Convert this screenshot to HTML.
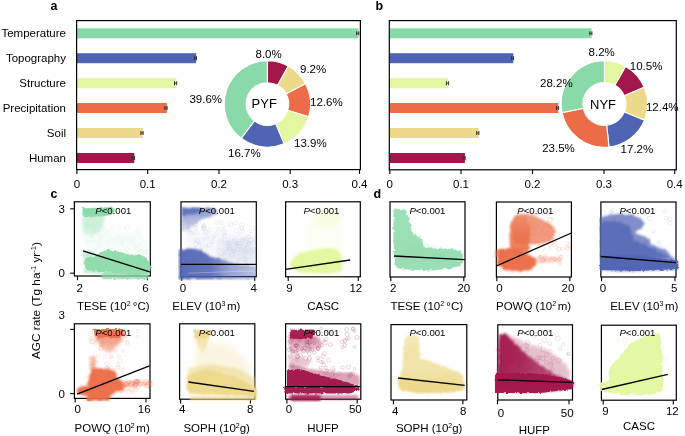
<!DOCTYPE html>
<html><head><meta charset="utf-8"><style>
html,body{margin:0;padding:0;background:#fff;}
svg{display:block;font-family:"Liberation Sans", sans-serif;will-change:transform;}
</style></head><body>
<svg width="685" height="436" viewBox="0 0 685 436">
<defs><clipPath id="c1"><rect x="70.4" y="199.8" width="82.9" height="80.19999999999999"/></clipPath><filter id="f2" x="-30%" y="-30%" width="160%" height="160%"><feGaussianBlur stdDeviation="2.0"/></filter><filter id="f3" x="-30%" y="-30%" width="160%" height="160%"><feGaussianBlur stdDeviation="3.0"/></filter><filter id="f4" x="-20%" y="-20%" width="140%" height="140%"><feTurbulence type="fractalNoise" baseFrequency="0.3" numOctaves="2" seed="4" result="n"/><feDisplacementMap in="SourceGraphic" in2="n" scale="3.5" xChannelSelector="R" yChannelSelector="G" result="d"/><feGaussianBlur in="d" stdDeviation="1.5"/></filter><linearGradient id="g5" gradientUnits="userSpaceOnUse" x1="0" y1="212" x2="0" y2="236"><stop offset="0" stop-color="#8AD9A8" stop-opacity="0.55"/><stop offset="1" stop-color="#8AD9A8" stop-opacity="0.12"/></linearGradient><filter id="f6" x="-20%" y="-20%" width="140%" height="140%"><feTurbulence type="fractalNoise" baseFrequency="0.3" numOctaves="2" seed="6" result="n"/><feDisplacementMap in="SourceGraphic" in2="n" scale="3.5" xChannelSelector="R" yChannelSelector="G" result="d"/><feGaussianBlur in="d" stdDeviation="0.7"/></filter><filter id="f7" x="-30%" y="-30%" width="160%" height="160%"><feGaussianBlur stdDeviation="0.7"/></filter><filter id="f8" x="-30%" y="-30%" width="160%" height="160%"><feGaussianBlur stdDeviation="1.2"/></filter><filter id="f9" x="-30%" y="-30%" width="160%" height="160%"><feGaussianBlur stdDeviation="0.8"/></filter><clipPath id="c10"><rect x="178.0" y="199.8" width="80.30000000000001" height="80.80000000000001"/></clipPath><filter id="f11" x="-20%" y="-20%" width="140%" height="140%"><feTurbulence type="fractalNoise" baseFrequency="0.3" numOctaves="2" seed="11" result="n"/><feDisplacementMap in="SourceGraphic" in2="n" scale="3.5" xChannelSelector="R" yChannelSelector="G" result="d"/><feGaussianBlur in="d" stdDeviation="1.0"/></filter><linearGradient id="g12" gradientUnits="userSpaceOnUse" x1="0" y1="208" x2="0" y2="232"><stop offset="0" stop-color="#5064B4" stop-opacity="0.7"/><stop offset="0.3" stop-color="#5064B4" stop-opacity="0.55"/><stop offset="1" stop-color="#5064B4" stop-opacity="0.2"/></linearGradient><filter id="f13" x="-20%" y="-20%" width="140%" height="140%"><feTurbulence type="fractalNoise" baseFrequency="0.3" numOctaves="2" seed="13" result="n"/><feDisplacementMap in="SourceGraphic" in2="n" scale="3.5" xChannelSelector="R" yChannelSelector="G" result="d"/><feGaussianBlur in="d" stdDeviation="0.8"/></filter><filter id="f14" x="-20%" y="-20%" width="140%" height="140%"><feTurbulence type="fractalNoise" baseFrequency="0.3" numOctaves="2" seed="14" result="n"/><feDisplacementMap in="SourceGraphic" in2="n" scale="3.5" xChannelSelector="R" yChannelSelector="G" result="d"/><feGaussianBlur in="d" stdDeviation="0.9"/></filter><linearGradient id="g15" gradientUnits="userSpaceOnUse" x1="179" y1="0" x2="256" y2="0"><stop offset="0" stop-color="#5064B4" stop-opacity="0.95"/><stop offset="0.4" stop-color="#5064B4" stop-opacity="0.9"/><stop offset="0.65" stop-color="#5064B4" stop-opacity="0.6"/><stop offset="1" stop-color="#5064B4" stop-opacity="0.4"/></linearGradient><clipPath id="c16"><rect x="281.6" y="199.8" width="82.69999999999999" height="80.0"/></clipPath><filter id="f17" x="-30%" y="-30%" width="160%" height="160%"><feGaussianBlur stdDeviation="3.5"/></filter><filter id="f18" x="-30%" y="-30%" width="160%" height="160%"><feGaussianBlur stdDeviation="2.5"/></filter><filter id="f19" x="-30%" y="-30%" width="160%" height="160%"><feGaussianBlur stdDeviation="1.3"/></filter><clipPath id="c20"><rect x="386.0" y="199.8" width="83.0" height="80.19999999999999"/></clipPath><filter id="f21" x="-30%" y="-30%" width="160%" height="160%"><feGaussianBlur stdDeviation="1.5"/></filter><clipPath id="c22"><rect x="493.4" y="200.0" width="80.0" height="79.0"/></clipPath><linearGradient id="g23" gradientUnits="userSpaceOnUse" x1="0" y1="216" x2="0" y2="253"><stop offset="0" stop-color="#EB6C46" stop-opacity="0.3"/><stop offset="0.45" stop-color="#EB6C46" stop-opacity="0.75"/><stop offset="1" stop-color="#EB6C46" stop-opacity="0.95"/></linearGradient><clipPath id="c24"><rect x="598.9" y="200.0" width="80.10000000000002" height="79.0"/></clipPath><clipPath id="c25"><rect x="71.4" y="321.8" width="81.6" height="79.59999999999997"/></clipPath><filter id="f26" x="-20%" y="-20%" width="140%" height="140%"><feTurbulence type="fractalNoise" baseFrequency="0.3" numOctaves="2" seed="26" result="n"/><feDisplacementMap in="SourceGraphic" in2="n" scale="3.5" xChannelSelector="R" yChannelSelector="G" result="d"/><feGaussianBlur in="d" stdDeviation="1.4"/></filter><linearGradient id="g27" gradientUnits="userSpaceOnUse" x1="0" y1="334" x2="0" y2="354"><stop offset="0" stop-color="#EB6C46" stop-opacity="0.75"/><stop offset="1" stop-color="#EB6C46" stop-opacity="0.3"/></linearGradient><filter id="f28" x="-20%" y="-20%" width="140%" height="140%"><feTurbulence type="fractalNoise" baseFrequency="0.3" numOctaves="2" seed="28" result="n"/><feDisplacementMap in="SourceGraphic" in2="n" scale="3.5" xChannelSelector="R" yChannelSelector="G" result="d"/><feGaussianBlur in="d" stdDeviation="1.2"/></filter><clipPath id="c29"><rect x="176.6" y="321.8" width="81.20000000000002" height="79.39999999999998"/></clipPath><linearGradient id="g30" gradientUnits="userSpaceOnUse" x1="0" y1="335" x2="0" y2="353"><stop offset="0" stop-color="#EDD98A" stop-opacity="0.85"/><stop offset="1" stop-color="#EDD98A" stop-opacity="0.3"/></linearGradient><clipPath id="c31"><rect x="282.6" y="321.8" width="80.19999999999999" height="80.39999999999998"/></clipPath><linearGradient id="g32" gradientUnits="userSpaceOnUse" x1="0" y1="336" x2="0" y2="352"><stop offset="0" stop-color="#A3164B" stop-opacity="0.55"/><stop offset="1" stop-color="#A3164B" stop-opacity="0.2"/></linearGradient><filter id="f33" x="-20%" y="-20%" width="140%" height="140%"><feTurbulence type="fractalNoise" baseFrequency="0.3" numOctaves="2" seed="33" result="n"/><feDisplacementMap in="SourceGraphic" in2="n" scale="3.5" xChannelSelector="R" yChannelSelector="G" result="d"/><feGaussianBlur in="d" stdDeviation="0.6"/></filter><clipPath id="c34"><rect x="387.0" y="322.6" width="83.80000000000001" height="80.39999999999998"/></clipPath><linearGradient id="g35" gradientUnits="userSpaceOnUse" x1="0" y1="334" x2="0" y2="392"><stop offset="0" stop-color="#EDD98A" stop-opacity="0.55"/><stop offset="0.3" stop-color="#EDD98A" stop-opacity="0.75"/><stop offset="0.6" stop-color="#EDD98A" stop-opacity="0.72"/><stop offset="0.8" stop-color="#EDD98A" stop-opacity="0.85"/><stop offset="1" stop-color="#EDD98A" stop-opacity="0.9"/></linearGradient><clipPath id="c36"><rect x="494.8" y="322.8" width="80.69999999999999" height="79.19999999999999"/></clipPath><linearGradient id="g37" gradientUnits="userSpaceOnUse" x1="498" y1="0" x2="575" y2="0"><stop offset="0" stop-color="#A3164B" stop-opacity="0.97"/><stop offset="0.3" stop-color="#A3164B" stop-opacity="0.9"/><stop offset="0.6" stop-color="#A3164B" stop-opacity="0.72"/><stop offset="1" stop-color="#A3164B" stop-opacity="0.55"/></linearGradient><clipPath id="c38"><rect x="598.4" y="323.2" width="80.89999999999998" height="79.0"/></clipPath></defs>
<rect width="685" height="436" fill="#fff"/>
<text x="50.5" y="10.2" font-size="12.5" text-anchor="start" font-weight="bold" font-style="normal" fill="#000" >a</text>
<text x="375.5" y="9.8" font-size="12.5" text-anchor="start" font-weight="bold" font-style="normal" fill="#000" >b</text>
<text x="50.5" y="198" font-size="12.5" text-anchor="start" font-weight="bold" font-style="normal" fill="#000" >c</text>
<text x="373.5" y="197.8" font-size="12.5" text-anchor="start" font-weight="bold" font-style="normal" fill="#000" >d</text>
<rect x="77" y="28.299999999999997" width="281.5" height="10.0" fill="#8AD9A8" />
<text x="66" y="37.4" font-size="11.5" text-anchor="end" font-weight="normal" font-style="normal" fill="#000" >Temperature</text>
<rect x="77" y="53.2" width="119.19999999999999" height="10.0" fill="#5064B4" />
<text x="66" y="62.300000000000004" font-size="11.5" text-anchor="end" font-weight="normal" font-style="normal" fill="#000" >Topography</text>
<rect x="77" y="78.2" width="99.4" height="10.0" fill="#E3F7A0" />
<text x="66" y="87.3" font-size="11.5" text-anchor="end" font-weight="normal" font-style="normal" fill="#000" >Structure</text>
<rect x="77" y="103.0" width="89.80000000000001" height="10.0" fill="#EB6C46" />
<text x="66" y="112.1" font-size="11.5" text-anchor="end" font-weight="normal" font-style="normal" fill="#000" >Precipitation</text>
<rect x="77" y="128.0" width="65.80000000000001" height="10.0" fill="#EDD98A" />
<text x="66" y="137.1" font-size="11.5" text-anchor="end" font-weight="normal" font-style="normal" fill="#000" >Soil</text>
<rect x="77" y="153.0" width="57.30000000000001" height="10.0" fill="#A3164B" />
<text x="66" y="162.1" font-size="11.5" text-anchor="end" font-weight="normal" font-style="normal" fill="#000" >Human</text>
<rect x="390" y="28.299999999999997" width="201.60000000000002" height="10.0" fill="#8AD9A8" />
<rect x="390" y="53.2" width="123.29999999999995" height="10.0" fill="#5064B4" />
<rect x="390" y="78.2" width="58.30000000000001" height="10.0" fill="#E3F7A0" />
<rect x="390" y="103.0" width="168.29999999999995" height="10.0" fill="#EB6C46" />
<rect x="390" y="128.0" width="88.60000000000002" height="10.0" fill="#EDD98A" />
<rect x="390" y="153.0" width="74.89999999999998" height="10.0" fill="#A3164B" />
<path d="M356.60 33.3H358.80M356.60 31.30V35.30M358.80 31.30V35.30" stroke="#333333" stroke-width="1.0" fill="none"/>
<path d="M194.30 58.2H196.50M194.30 56.20V60.20M196.50 56.20V60.20" stroke="#333333" stroke-width="1.0" fill="none"/>
<path d="M174.50 83.2H176.70M174.50 81.20V85.20M176.70 81.20V85.20" stroke="#333333" stroke-width="1.0" fill="none"/>
<path d="M164.90 108.0H167.10M164.90 106.00V110.00M167.10 106.00V110.00" stroke="#333333" stroke-width="1.0" fill="none"/>
<path d="M140.90 133.0H143.10M140.90 131.00V135.00M143.10 131.00V135.00" stroke="#333333" stroke-width="1.0" fill="none"/>
<path d="M132.40 158.0H134.60M132.40 156.00V160.00M134.60 156.00V160.00" stroke="#333333" stroke-width="1.0" fill="none"/>
<path d="M589.70 33.3H591.90M589.70 31.30V35.30M591.90 31.30V35.30" stroke="#333333" stroke-width="1.0" fill="none"/>
<path d="M511.40 58.2H513.60M511.40 56.20V60.20M513.60 56.20V60.20" stroke="#333333" stroke-width="1.0" fill="none"/>
<path d="M446.40 83.2H448.60M446.40 81.20V85.20M448.60 81.20V85.20" stroke="#333333" stroke-width="1.0" fill="none"/>
<path d="M556.40 108.0H558.60M556.40 106.00V110.00M558.60 106.00V110.00" stroke="#333333" stroke-width="1.0" fill="none"/>
<path d="M476.70 133.0H478.90M476.70 131.00V135.00M478.90 131.00V135.00" stroke="#333333" stroke-width="1.0" fill="none"/>
<path d="M463.00 158.0H465.20M463.00 156.00V160.00M465.20 156.00V160.00" stroke="#333333" stroke-width="1.0" fill="none"/>
<rect x="76.6" y="20.6" width="283.79999999999995" height="149.0" fill="none" stroke="#000" stroke-width="1.2"/>
<rect x="389.3" y="20.6" width="286.99999999999994" height="149.20000000000002" fill="none" stroke="#000" stroke-width="1.2"/>
<line x1="76.9" y1="169.6" x2="76.9" y2="173.9" stroke="#000" stroke-width="1.1"/>
<text x="76.9" y="188" font-size="11.5" text-anchor="middle" font-weight="normal" font-style="normal" fill="#000" >0</text>
<line x1="147.7" y1="169.6" x2="147.7" y2="173.9" stroke="#000" stroke-width="1.1"/>
<text x="147.7" y="188" font-size="11.5" text-anchor="middle" font-weight="normal" font-style="normal" fill="#000" >0.1</text>
<line x1="219.0" y1="169.6" x2="219.0" y2="173.9" stroke="#000" stroke-width="1.1"/>
<text x="219.0" y="188" font-size="11.5" text-anchor="middle" font-weight="normal" font-style="normal" fill="#000" >0.2</text>
<line x1="290.2" y1="169.6" x2="290.2" y2="173.9" stroke="#000" stroke-width="1.1"/>
<text x="290.2" y="188" font-size="11.5" text-anchor="middle" font-weight="normal" font-style="normal" fill="#000" >0.3</text>
<line x1="359.5" y1="169.6" x2="359.5" y2="173.9" stroke="#000" stroke-width="1.1"/>
<text x="359.5" y="188" font-size="11.5" text-anchor="middle" font-weight="normal" font-style="normal" fill="#000" >0.4</text>
<line x1="389.8" y1="169.8" x2="389.8" y2="174.10000000000002" stroke="#000" stroke-width="1.1"/>
<text x="389.8" y="188" font-size="11.5" text-anchor="middle" font-weight="normal" font-style="normal" fill="#000" >0</text>
<line x1="461.0" y1="169.8" x2="461.0" y2="174.10000000000002" stroke="#000" stroke-width="1.1"/>
<text x="461.0" y="188" font-size="11.5" text-anchor="middle" font-weight="normal" font-style="normal" fill="#000" >0.1</text>
<line x1="532.5" y1="169.8" x2="532.5" y2="174.10000000000002" stroke="#000" stroke-width="1.1"/>
<text x="532.5" y="188" font-size="11.5" text-anchor="middle" font-weight="normal" font-style="normal" fill="#000" >0.2</text>
<line x1="604.0" y1="169.8" x2="604.0" y2="174.10000000000002" stroke="#000" stroke-width="1.1"/>
<text x="604.0" y="188" font-size="11.5" text-anchor="middle" font-weight="normal" font-style="normal" fill="#000" >0.3</text>
<line x1="674.7" y1="169.8" x2="674.7" y2="174.10000000000002" stroke="#000" stroke-width="1.1"/>
<text x="674.7" y="188" font-size="11.5" text-anchor="middle" font-weight="normal" font-style="normal" fill="#000" >0.4</text>
<path d="M267.40 60.80A43.2 43.2 0 0 1 288.21 66.14L277.66 85.33A21.3 21.3 0 0 0 267.40 82.70Z" fill="#A3164B" stroke="#fff" stroke-width="1.1" stroke-linejoin="miter"/>
<path d="M288.21 66.14A43.2 43.2 0 0 1 305.51 83.67L286.19 93.97A21.3 21.3 0 0 0 277.66 85.33Z" fill="#EDD98A" stroke="#fff" stroke-width="1.1" stroke-linejoin="miter"/>
<path d="M305.51 83.67A43.2 43.2 0 0 1 308.65 116.83L287.74 110.33A21.3 21.3 0 0 0 286.19 93.97Z" fill="#EB6C46" stroke="#fff" stroke-width="1.1" stroke-linejoin="miter"/>
<path d="M308.65 116.83A43.2 43.2 0 0 1 284.06 143.86L275.61 123.65A21.3 21.3 0 0 0 287.74 110.33Z" fill="#E3F7A0" stroke="#fff" stroke-width="1.1" stroke-linejoin="miter"/>
<path d="M284.06 143.86A43.2 43.2 0 0 1 241.14 138.30L254.45 120.91A21.3 21.3 0 0 0 275.61 123.65Z" fill="#5064B4" stroke="#fff" stroke-width="1.1" stroke-linejoin="miter"/>
<path d="M241.14 138.30A43.2 43.2 0 0 1 267.40 60.80L267.40 82.70A21.3 21.3 0 0 0 254.45 120.91Z" fill="#8AD9A8" stroke="#fff" stroke-width="1.1" stroke-linejoin="miter"/>
<text x="264.2" y="107.9" font-size="13" text-anchor="middle" font-weight="normal" font-style="normal" fill="#000" >PYF</text>
<path d="M604.40 60.80A43.2 43.2 0 0 1 625.69 66.41L614.99 85.29A21.5 21.5 0 0 0 604.40 82.50Z" fill="#E3F7A0" stroke="#fff" stroke-width="1.1" stroke-linejoin="miter"/>
<path d="M625.69 66.41A43.2 43.2 0 0 1 644.26 87.34L624.24 95.71A21.5 21.5 0 0 0 614.99 85.29Z" fill="#A3164B" stroke="#fff" stroke-width="1.1" stroke-linejoin="miter"/>
<path d="M644.26 87.34A43.2 43.2 0 0 1 644.47 120.16L624.34 112.04A21.5 21.5 0 0 0 624.24 95.71Z" fill="#EDD98A" stroke="#fff" stroke-width="1.1" stroke-linejoin="miter"/>
<path d="M644.47 120.16A43.2 43.2 0 0 1 609.01 146.95L606.69 125.38A21.5 21.5 0 0 0 624.34 112.04Z" fill="#5064B4" stroke="#fff" stroke-width="1.1" stroke-linejoin="miter"/>
<path d="M609.01 146.95A43.2 43.2 0 0 1 562.07 112.63L583.33 108.29A21.5 21.5 0 0 0 606.69 125.38Z" fill="#EB6C46" stroke="#fff" stroke-width="1.1" stroke-linejoin="miter"/>
<path d="M562.07 112.63A43.2 43.2 0 0 1 604.40 60.80L604.40 82.50A21.5 21.5 0 0 0 583.33 108.29Z" fill="#8AD9A8" stroke="#fff" stroke-width="1.1" stroke-linejoin="miter"/>
<text x="603.0" y="108.6" font-size="13" text-anchor="middle" font-weight="normal" font-style="normal" fill="#000" >NYF</text>
<text x="255.5" y="58.0" font-size="11.5" text-anchor="start" font-weight="normal" font-style="normal" fill="#000" >8.0%</text>
<text x="300.0" y="73.4" font-size="11.5" text-anchor="start" font-weight="normal" font-style="normal" fill="#000" >9.2%</text>
<text x="310.0" y="106.0" font-size="11.5" text-anchor="start" font-weight="normal" font-style="normal" fill="#000" >12.6%</text>
<text x="294.0" y="146.8" font-size="11.5" text-anchor="start" font-weight="normal" font-style="normal" fill="#000" >13.9%</text>
<text x="228.0" y="157.0" font-size="11.5" text-anchor="start" font-weight="normal" font-style="normal" fill="#000" >16.7%</text>
<text x="189.4" y="103.0" font-size="11.5" text-anchor="start" font-weight="normal" font-style="normal" fill="#000" >39.6%</text>
<text x="588.6" y="56.3" font-size="11.5" text-anchor="start" font-weight="normal" font-style="normal" fill="#000" >8.2%</text>
<text x="629.8" y="70.4" font-size="11.5" text-anchor="start" font-weight="normal" font-style="normal" fill="#000" >10.5%</text>
<text x="645.9" y="111.3" font-size="11.5" text-anchor="start" font-weight="normal" font-style="normal" fill="#000" >12.4%</text>
<text x="620.6" y="153.0" font-size="11.5" text-anchor="start" font-weight="normal" font-style="normal" fill="#000" >17.2%</text>
<text x="542.2" y="152.3" font-size="11.5" text-anchor="start" font-weight="normal" font-style="normal" fill="#000" >23.5%</text>
<text x="540.0" y="87.4" font-size="11.5" text-anchor="start" font-weight="normal" font-style="normal" fill="#000" >28.2%</text>
<rect x="74.4" y="201.8" width="75.9" height="74.19999999999999" fill="none" stroke="#000" stroke-width="1.2"/>
<line x1="77.5" y1="276.0" x2="77.5" y2="280.2" stroke="#000" stroke-width="1.1"/>
<line x1="147.4" y1="276.0" x2="147.4" y2="280.2" stroke="#000" stroke-width="1.1"/>
<line x1="70.2" y1="208.8" x2="74.4" y2="208.8" stroke="#000" stroke-width="1.1"/>
<line x1="70.2" y1="273.2" x2="74.4" y2="273.2" stroke="#000" stroke-width="1.1"/>
<g clip-path="url(#c1)">
<circle cx="105.4" cy="230.5" r="2.1" fill="none" stroke="#8AD9A8" stroke-width="0.45" stroke-opacity="0.15"/>
<circle cx="89.6" cy="242.1" r="1.8" fill="none" stroke="#8AD9A8" stroke-width="0.45" stroke-opacity="0.15"/>
<circle cx="88.7" cy="241.2" r="1.4" fill="none" stroke="#8AD9A8" stroke-width="0.45" stroke-opacity="0.15"/>
<circle cx="112.3" cy="228.1" r="1.5" fill="none" stroke="#8AD9A8" stroke-width="0.45" stroke-opacity="0.15"/>
<circle cx="111.7" cy="250.8" r="1.5" fill="none" stroke="#8AD9A8" stroke-width="0.45" stroke-opacity="0.15"/>
<circle cx="99.1" cy="244.8" r="2.3" fill="none" stroke="#8AD9A8" stroke-width="0.45" stroke-opacity="0.15"/>
<circle cx="121.4" cy="237.9" r="2.4" fill="none" stroke="#8AD9A8" stroke-width="0.45" stroke-opacity="0.15"/>
<circle cx="87.9" cy="251.8" r="1.7" fill="none" stroke="#8AD9A8" stroke-width="0.45" stroke-opacity="0.15"/>
<circle cx="94.1" cy="229.5" r="1.7" fill="none" stroke="#8AD9A8" stroke-width="0.45" stroke-opacity="0.15"/>
<circle cx="136.4" cy="231.4" r="2.0" fill="none" stroke="#8AD9A8" stroke-width="0.45" stroke-opacity="0.15"/>
<circle cx="125.3" cy="237.2" r="1.9" fill="none" stroke="#8AD9A8" stroke-width="0.45" stroke-opacity="0.15"/>
<circle cx="89.0" cy="227.8" r="1.6" fill="none" stroke="#8AD9A8" stroke-width="0.45" stroke-opacity="0.15"/>
<circle cx="127.9" cy="238.8" r="1.7" fill="none" stroke="#8AD9A8" stroke-width="0.45" stroke-opacity="0.15"/>
<circle cx="121.9" cy="239.6" r="1.7" fill="none" stroke="#8AD9A8" stroke-width="0.45" stroke-opacity="0.15"/>
<circle cx="135.0" cy="247.0" r="1.6" fill="none" stroke="#8AD9A8" stroke-width="0.45" stroke-opacity="0.15"/>
<circle cx="121.2" cy="241.8" r="2.3" fill="none" stroke="#8AD9A8" stroke-width="0.45" stroke-opacity="0.15"/>
<circle cx="131.0" cy="234.6" r="2.4" fill="none" stroke="#8AD9A8" stroke-width="0.45" stroke-opacity="0.15"/>
<circle cx="92.4" cy="238.5" r="2.2" fill="none" stroke="#8AD9A8" stroke-width="0.45" stroke-opacity="0.15"/>
<circle cx="94.6" cy="240.7" r="1.4" fill="none" stroke="#8AD9A8" stroke-width="0.45" stroke-opacity="0.15"/>
<circle cx="127.1" cy="248.9" r="2.0" fill="none" stroke="#8AD9A8" stroke-width="0.45" stroke-opacity="0.15"/>
<circle cx="140.2" cy="235.4" r="2.1" fill="none" stroke="#8AD9A8" stroke-width="0.45" stroke-opacity="0.15"/>
<circle cx="122.4" cy="243.4" r="1.9" fill="none" stroke="#8AD9A8" stroke-width="0.45" stroke-opacity="0.15"/>
<circle cx="137.9" cy="254.3" r="1.9" fill="none" stroke="#8AD9A8" stroke-width="0.45" stroke-opacity="0.15"/>
<circle cx="126.8" cy="227.8" r="2.1" fill="none" stroke="#8AD9A8" stroke-width="0.45" stroke-opacity="0.15"/>
<circle cx="125.8" cy="255.8" r="2.2" fill="none" stroke="#8AD9A8" stroke-width="0.45" stroke-opacity="0.15"/>
<circle cx="102.9" cy="237.6" r="2.1" fill="none" stroke="#8AD9A8" stroke-width="0.45" stroke-opacity="0.15"/>
<circle cx="86.4" cy="239.9" r="1.6" fill="none" stroke="#8AD9A8" stroke-width="0.45" stroke-opacity="0.15"/>
<circle cx="92.4" cy="227.8" r="2.2" fill="none" stroke="#8AD9A8" stroke-width="0.45" stroke-opacity="0.15"/>
<circle cx="93.1" cy="233.4" r="1.8" fill="none" stroke="#8AD9A8" stroke-width="0.45" stroke-opacity="0.15"/>
<circle cx="139.9" cy="228.4" r="1.8" fill="none" stroke="#8AD9A8" stroke-width="0.45" stroke-opacity="0.15"/>
<circle cx="119.6" cy="252.5" r="2.2" fill="none" stroke="#8AD9A8" stroke-width="0.45" stroke-opacity="0.15"/>
<circle cx="139.4" cy="234.4" r="1.8" fill="none" stroke="#8AD9A8" stroke-width="0.45" stroke-opacity="0.15"/>
<circle cx="107.6" cy="252.5" r="2.4" fill="none" stroke="#8AD9A8" stroke-width="0.45" stroke-opacity="0.15"/>
<circle cx="94.5" cy="231.3" r="1.6" fill="none" stroke="#8AD9A8" stroke-width="0.45" stroke-opacity="0.15"/>
<circle cx="99.7" cy="240.5" r="2.0" fill="none" stroke="#8AD9A8" stroke-width="0.45" stroke-opacity="0.15"/>
<circle cx="101.6" cy="226.1" r="1.8" fill="none" stroke="#8AD9A8" stroke-width="0.45" stroke-opacity="0.15"/>
<circle cx="108.3" cy="243.0" r="2.4" fill="none" stroke="#8AD9A8" stroke-width="0.45" stroke-opacity="0.15"/>
<circle cx="128.5" cy="241.5" r="2.0" fill="none" stroke="#8AD9A8" stroke-width="0.45" stroke-opacity="0.15"/>
<circle cx="127.6" cy="227.6" r="2.3" fill="none" stroke="#8AD9A8" stroke-width="0.45" stroke-opacity="0.15"/>
<circle cx="134.1" cy="252.2" r="2.2" fill="none" stroke="#8AD9A8" stroke-width="0.45" stroke-opacity="0.15"/>
<circle cx="109.7" cy="238.0" r="1.5" fill="none" stroke="#8AD9A8" stroke-width="0.45" stroke-opacity="0.15"/>
<circle cx="125.0" cy="227.9" r="1.5" fill="none" stroke="#8AD9A8" stroke-width="0.45" stroke-opacity="0.15"/>
<circle cx="98.2" cy="230.9" r="1.7" fill="none" stroke="#8AD9A8" stroke-width="0.45" stroke-opacity="0.15"/>
<circle cx="88.3" cy="226.0" r="1.6" fill="none" stroke="#8AD9A8" stroke-width="0.45" stroke-opacity="0.15"/>
<circle cx="91.4" cy="236.9" r="1.4" fill="none" stroke="#8AD9A8" stroke-width="0.45" stroke-opacity="0.15"/>
<circle cx="140.1" cy="244.4" r="1.5" fill="none" stroke="#8AD9A8" stroke-width="0.45" stroke-opacity="0.15"/>
<circle cx="100.9" cy="236.4" r="1.8" fill="none" stroke="#8AD9A8" stroke-width="0.45" stroke-opacity="0.15"/>
<circle cx="92.7" cy="251.5" r="2.4" fill="none" stroke="#8AD9A8" stroke-width="0.45" stroke-opacity="0.15"/>
<circle cx="114.4" cy="240.5" r="1.5" fill="none" stroke="#8AD9A8" stroke-width="0.45" stroke-opacity="0.15"/>
<circle cx="91.4" cy="236.3" r="1.7" fill="none" stroke="#8AD9A8" stroke-width="0.45" stroke-opacity="0.15"/>
<circle cx="137.2" cy="230.8" r="1.4" fill="none" stroke="#8AD9A8" stroke-width="0.45" stroke-opacity="0.15"/>
<circle cx="144.9" cy="241.8" r="1.5" fill="none" stroke="#8AD9A8" stroke-width="0.45" stroke-opacity="0.15"/>
<circle cx="119.2" cy="226.8" r="1.9" fill="none" stroke="#8AD9A8" stroke-width="0.45" stroke-opacity="0.15"/>
<circle cx="146.6" cy="251.9" r="2.1" fill="none" stroke="#8AD9A8" stroke-width="0.45" stroke-opacity="0.15"/>
<circle cx="101.5" cy="237.0" r="1.6" fill="none" stroke="#8AD9A8" stroke-width="0.45" stroke-opacity="0.15"/>
<circle cx="133.6" cy="242.0" r="2.2" fill="none" stroke="#8AD9A8" stroke-width="0.45" stroke-opacity="0.15"/>
<circle cx="105.8" cy="232.7" r="2.2" fill="none" stroke="#8AD9A8" stroke-width="0.45" stroke-opacity="0.15"/>
<circle cx="147.1" cy="251.6" r="2.2" fill="none" stroke="#8AD9A8" stroke-width="0.45" stroke-opacity="0.15"/>
<circle cx="136.6" cy="248.2" r="1.6" fill="none" stroke="#8AD9A8" stroke-width="0.45" stroke-opacity="0.15"/>
<circle cx="117.6" cy="236.7" r="1.4" fill="none" stroke="#8AD9A8" stroke-width="0.45" stroke-opacity="0.15"/>
<circle cx="86.8" cy="234.4" r="1.7" fill="none" stroke="#8AD9A8" stroke-width="0.45" stroke-opacity="0.15"/>
<circle cx="128.6" cy="254.7" r="1.8" fill="none" stroke="#8AD9A8" stroke-width="0.45" stroke-opacity="0.15"/>
<circle cx="144.0" cy="255.6" r="2.4" fill="none" stroke="#8AD9A8" stroke-width="0.45" stroke-opacity="0.15"/>
<circle cx="108.0" cy="232.6" r="1.6" fill="none" stroke="#8AD9A8" stroke-width="0.45" stroke-opacity="0.15"/>
<circle cx="97.4" cy="232.1" r="2.0" fill="none" stroke="#8AD9A8" stroke-width="0.45" stroke-opacity="0.15"/>
<circle cx="141.7" cy="251.2" r="1.9" fill="none" stroke="#8AD9A8" stroke-width="0.45" stroke-opacity="0.15"/>
<circle cx="126.1" cy="250.0" r="1.5" fill="none" stroke="#8AD9A8" stroke-width="0.45" stroke-opacity="0.15"/>
<circle cx="126.6" cy="253.3" r="2.2" fill="none" stroke="#8AD9A8" stroke-width="0.45" stroke-opacity="0.15"/>
<circle cx="132.3" cy="240.3" r="1.6" fill="none" stroke="#8AD9A8" stroke-width="0.45" stroke-opacity="0.15"/>
<circle cx="134.7" cy="236.0" r="2.2" fill="none" stroke="#8AD9A8" stroke-width="0.45" stroke-opacity="0.15"/>
<path d="M83.0 222.0L100.0 222.0L103.0 228.0L98.0 234.0L86.0 236.0L82.0 230.0Z" fill="#8AD9A8" fill-opacity="0.18" filter="url(#f2)"/>
<path d="M88.0 234.0L115.0 232.0L140.0 236.0L148.0 244.0L148.0 256.0L120.0 252.0L95.0 253.0L86.0 250.0Z" fill="#8AD9A8" fill-opacity="0.08" filter="url(#f3)"/>
<path d="M82.5 212.0L106.0 212.0L104.0 220.0L103.0 228.0L96.0 234.0L83.0 236.0Z" fill="url(#g5)" filter="url(#f4)"/>
<path d="M82.5 208.0L113.0 207.5L116.0 211.0L111.0 215.0L100.0 216.5L86.0 217.0L82.5 215.0Z" fill="#8AD9A8" fill-opacity="0.95" filter="url(#f6)"/>
<path d="M84.0 208.5L98.0 208.5L98.0 214.0L84.0 214.0Z" fill="#8AD9A8" fill-opacity="0.9" filter="url(#f7)"/>
<path d="M82.0 251.0L90.0 251.0L96.0 253.0L92.0 258.0L83.0 259.0Z" fill="#8AD9A8" fill-opacity="0.45" filter="url(#f8)"/>
<path d="M83.6 258.5L94.7 256.4L101.5 251.6L109.8 249.5L118.0 251.6L129.0 254.4L140.0 255.0L144.2 256.4L147.0 259.0L151.0 266.0L150.4 270.0L148.4 273.0L136.0 275.0L122.0 273.6L101.5 272.3L87.8 270.2L83.6 266.0Z" fill="#8AD9A8" fill-opacity="0.93" filter="url(#f6)"/>
<path d="M101.5 273.0L148.4 273.0L148.4 279.3L101.5 279.3Z" fill="#8AD9A8" fill-opacity="0.75" filter="url(#f6)"/>
<path d="M84.0 268.0L101.5 270.0L101.5 274.0L84.0 273.0Z" fill="#8AD9A8" fill-opacity="0.5" filter="url(#f9)"/>
</g>
<line x1="83.0" y1="250.9" x2="149.8" y2="271.8" stroke="#000" stroke-width="1.3"/>
<text x="76.6" y="291.6" font-size="11.5" text-anchor="start" font-weight="normal" font-style="normal" fill="#000" >2</text>
<text x="148.6" y="291.6" font-size="11.5" text-anchor="end" font-weight="normal" font-style="normal" fill="#000" >6</text>
<text x="76.9" y="310.3" font-size="11.5" text-anchor="start" font-weight="normal" font-style="normal" fill="#000" >TESE (10<tspan font-size="7" dy="-4">2</tspan><tspan dy="4" dx="2.2">°C)</tspan></text>
<text x="95.3" y="214.0" font-size="9.6" text-anchor="start" font-weight="normal" font-style="normal" fill="#000" ><tspan font-style="italic">P</tspan>&lt;0.001</text>
<text x="64.8" y="213.1" font-size="11.5" text-anchor="end" font-weight="normal" font-style="normal" fill="#000" >3</text>
<text x="64.8" y="277.4" font-size="11.5" text-anchor="end" font-weight="normal" font-style="normal" fill="#000" >0</text>
<rect x="181.0" y="201.8" width="75.30000000000001" height="74.80000000000001" fill="none" stroke="#000" stroke-width="1.2"/>
<line x1="181.7" y1="276.6" x2="181.7" y2="280.8" stroke="#000" stroke-width="1.1"/>
<line x1="254.7" y1="276.6" x2="254.7" y2="280.8" stroke="#000" stroke-width="1.1"/>
<g clip-path="url(#c10)">
<circle cx="253.0" cy="238.6" r="1.8" fill="none" stroke="#5064B4" stroke-width="0.45" stroke-opacity="0.17"/>
<circle cx="251.3" cy="252.4" r="1.6" fill="none" stroke="#5064B4" stroke-width="0.45" stroke-opacity="0.17"/>
<circle cx="194.8" cy="228.3" r="2.3" fill="none" stroke="#5064B4" stroke-width="0.45" stroke-opacity="0.17"/>
<circle cx="241.6" cy="228.1" r="2.2" fill="none" stroke="#5064B4" stroke-width="0.45" stroke-opacity="0.17"/>
<circle cx="253.6" cy="249.6" r="1.8" fill="none" stroke="#5064B4" stroke-width="0.45" stroke-opacity="0.17"/>
<circle cx="223.9" cy="227.5" r="1.4" fill="none" stroke="#5064B4" stroke-width="0.45" stroke-opacity="0.17"/>
<circle cx="253.0" cy="249.3" r="1.9" fill="none" stroke="#5064B4" stroke-width="0.45" stroke-opacity="0.17"/>
<circle cx="250.4" cy="240.2" r="2.3" fill="none" stroke="#5064B4" stroke-width="0.45" stroke-opacity="0.17"/>
<circle cx="243.0" cy="230.9" r="1.7" fill="none" stroke="#5064B4" stroke-width="0.45" stroke-opacity="0.17"/>
<circle cx="206.2" cy="232.1" r="2.0" fill="none" stroke="#5064B4" stroke-width="0.45" stroke-opacity="0.17"/>
<circle cx="203.9" cy="239.6" r="1.5" fill="none" stroke="#5064B4" stroke-width="0.45" stroke-opacity="0.17"/>
<circle cx="248.8" cy="236.9" r="1.9" fill="none" stroke="#5064B4" stroke-width="0.45" stroke-opacity="0.17"/>
<circle cx="226.3" cy="260.0" r="1.8" fill="none" stroke="#5064B4" stroke-width="0.45" stroke-opacity="0.17"/>
<circle cx="249.3" cy="243.1" r="1.9" fill="none" stroke="#5064B4" stroke-width="0.45" stroke-opacity="0.17"/>
<circle cx="222.1" cy="222.8" r="1.8" fill="none" stroke="#5064B4" stroke-width="0.45" stroke-opacity="0.17"/>
<circle cx="198.6" cy="222.2" r="2.2" fill="none" stroke="#5064B4" stroke-width="0.45" stroke-opacity="0.17"/>
<circle cx="197.9" cy="241.9" r="2.1" fill="none" stroke="#5064B4" stroke-width="0.45" stroke-opacity="0.17"/>
<circle cx="224.4" cy="235.7" r="1.9" fill="none" stroke="#5064B4" stroke-width="0.45" stroke-opacity="0.17"/>
<circle cx="224.3" cy="254.9" r="1.5" fill="none" stroke="#5064B4" stroke-width="0.45" stroke-opacity="0.17"/>
<circle cx="224.7" cy="232.4" r="1.7" fill="none" stroke="#5064B4" stroke-width="0.45" stroke-opacity="0.17"/>
<circle cx="239.3" cy="243.3" r="2.0" fill="none" stroke="#5064B4" stroke-width="0.45" stroke-opacity="0.17"/>
<circle cx="238.4" cy="260.3" r="1.8" fill="none" stroke="#5064B4" stroke-width="0.45" stroke-opacity="0.17"/>
<circle cx="228.3" cy="243.2" r="1.9" fill="none" stroke="#5064B4" stroke-width="0.45" stroke-opacity="0.17"/>
<circle cx="233.8" cy="241.0" r="1.9" fill="none" stroke="#5064B4" stroke-width="0.45" stroke-opacity="0.17"/>
<circle cx="219.0" cy="261.5" r="2.1" fill="none" stroke="#5064B4" stroke-width="0.45" stroke-opacity="0.17"/>
<circle cx="246.5" cy="261.6" r="1.7" fill="none" stroke="#5064B4" stroke-width="0.45" stroke-opacity="0.17"/>
<circle cx="224.6" cy="261.6" r="2.2" fill="none" stroke="#5064B4" stroke-width="0.45" stroke-opacity="0.17"/>
<circle cx="195.5" cy="227.1" r="1.8" fill="none" stroke="#5064B4" stroke-width="0.45" stroke-opacity="0.17"/>
<circle cx="191.0" cy="232.1" r="1.5" fill="none" stroke="#5064B4" stroke-width="0.45" stroke-opacity="0.17"/>
<circle cx="232.2" cy="254.9" r="2.3" fill="none" stroke="#5064B4" stroke-width="0.45" stroke-opacity="0.17"/>
<circle cx="196.7" cy="252.1" r="2.1" fill="none" stroke="#5064B4" stroke-width="0.45" stroke-opacity="0.17"/>
<circle cx="195.9" cy="259.1" r="2.4" fill="none" stroke="#5064B4" stroke-width="0.45" stroke-opacity="0.17"/>
<circle cx="201.2" cy="262.0" r="1.8" fill="none" stroke="#5064B4" stroke-width="0.45" stroke-opacity="0.17"/>
<circle cx="219.6" cy="263.6" r="2.2" fill="none" stroke="#5064B4" stroke-width="0.45" stroke-opacity="0.17"/>
<circle cx="197.1" cy="240.1" r="1.9" fill="none" stroke="#5064B4" stroke-width="0.45" stroke-opacity="0.17"/>
<circle cx="209.4" cy="230.2" r="1.7" fill="none" stroke="#5064B4" stroke-width="0.45" stroke-opacity="0.17"/>
<circle cx="235.8" cy="222.8" r="2.0" fill="none" stroke="#5064B4" stroke-width="0.45" stroke-opacity="0.17"/>
<circle cx="216.4" cy="222.8" r="1.7" fill="none" stroke="#5064B4" stroke-width="0.45" stroke-opacity="0.17"/>
<circle cx="229.1" cy="243.5" r="1.5" fill="none" stroke="#5064B4" stroke-width="0.45" stroke-opacity="0.17"/>
<circle cx="254.0" cy="255.1" r="2.4" fill="none" stroke="#5064B4" stroke-width="0.45" stroke-opacity="0.17"/>
<circle cx="193.2" cy="233.2" r="1.4" fill="none" stroke="#5064B4" stroke-width="0.45" stroke-opacity="0.17"/>
<circle cx="239.8" cy="233.4" r="1.5" fill="none" stroke="#5064B4" stroke-width="0.45" stroke-opacity="0.17"/>
<circle cx="215.1" cy="260.3" r="2.2" fill="none" stroke="#5064B4" stroke-width="0.45" stroke-opacity="0.17"/>
<circle cx="203.8" cy="228.3" r="2.3" fill="none" stroke="#5064B4" stroke-width="0.45" stroke-opacity="0.17"/>
<circle cx="225.4" cy="251.4" r="1.5" fill="none" stroke="#5064B4" stroke-width="0.45" stroke-opacity="0.17"/>
<circle cx="190.0" cy="250.9" r="1.8" fill="none" stroke="#5064B4" stroke-width="0.45" stroke-opacity="0.17"/>
<circle cx="191.0" cy="261.4" r="2.0" fill="none" stroke="#5064B4" stroke-width="0.45" stroke-opacity="0.17"/>
<circle cx="241.3" cy="225.5" r="2.3" fill="none" stroke="#5064B4" stroke-width="0.45" stroke-opacity="0.17"/>
<circle cx="190.6" cy="258.2" r="1.9" fill="none" stroke="#5064B4" stroke-width="0.45" stroke-opacity="0.17"/>
<circle cx="209.4" cy="245.2" r="2.3" fill="none" stroke="#5064B4" stroke-width="0.45" stroke-opacity="0.17"/>
<circle cx="204.5" cy="227.4" r="1.9" fill="none" stroke="#5064B4" stroke-width="0.45" stroke-opacity="0.17"/>
<circle cx="202.5" cy="226.6" r="1.6" fill="none" stroke="#5064B4" stroke-width="0.45" stroke-opacity="0.17"/>
<circle cx="189.5" cy="230.5" r="1.7" fill="none" stroke="#5064B4" stroke-width="0.45" stroke-opacity="0.17"/>
<circle cx="207.0" cy="253.9" r="1.7" fill="none" stroke="#5064B4" stroke-width="0.45" stroke-opacity="0.17"/>
<circle cx="220.5" cy="229.5" r="1.7" fill="none" stroke="#5064B4" stroke-width="0.45" stroke-opacity="0.17"/>
<circle cx="187.3" cy="232.5" r="1.4" fill="none" stroke="#5064B4" stroke-width="0.45" stroke-opacity="0.17"/>
<circle cx="236.6" cy="245.1" r="1.6" fill="none" stroke="#5064B4" stroke-width="0.45" stroke-opacity="0.17"/>
<circle cx="218.8" cy="261.3" r="1.5" fill="none" stroke="#5064B4" stroke-width="0.45" stroke-opacity="0.17"/>
<circle cx="242.5" cy="240.2" r="1.9" fill="none" stroke="#5064B4" stroke-width="0.45" stroke-opacity="0.17"/>
<circle cx="243.6" cy="238.5" r="1.9" fill="none" stroke="#5064B4" stroke-width="0.45" stroke-opacity="0.17"/>
<circle cx="233.5" cy="263.3" r="1.7" fill="none" stroke="#5064B4" stroke-width="0.45" stroke-opacity="0.17"/>
<circle cx="243.4" cy="251.7" r="2.0" fill="none" stroke="#5064B4" stroke-width="0.45" stroke-opacity="0.17"/>
<circle cx="213.9" cy="236.6" r="1.5" fill="none" stroke="#5064B4" stroke-width="0.45" stroke-opacity="0.17"/>
<circle cx="195.0" cy="225.0" r="2.1" fill="none" stroke="#5064B4" stroke-width="0.45" stroke-opacity="0.17"/>
<circle cx="203.6" cy="228.9" r="1.5" fill="none" stroke="#5064B4" stroke-width="0.45" stroke-opacity="0.17"/>
<circle cx="244.0" cy="258.6" r="2.1" fill="none" stroke="#5064B4" stroke-width="0.45" stroke-opacity="0.17"/>
<circle cx="205.5" cy="232.2" r="1.7" fill="none" stroke="#5064B4" stroke-width="0.45" stroke-opacity="0.17"/>
<circle cx="217.7" cy="228.6" r="1.8" fill="none" stroke="#5064B4" stroke-width="0.45" stroke-opacity="0.17"/>
<circle cx="204.2" cy="262.4" r="2.4" fill="none" stroke="#5064B4" stroke-width="0.45" stroke-opacity="0.17"/>
<circle cx="223.7" cy="232.3" r="2.4" fill="none" stroke="#5064B4" stroke-width="0.45" stroke-opacity="0.17"/>
<circle cx="207.4" cy="237.0" r="1.4" fill="none" stroke="#5064B4" stroke-width="0.45" stroke-opacity="0.17"/>
<circle cx="212.3" cy="241.9" r="1.9" fill="none" stroke="#5064B4" stroke-width="0.45" stroke-opacity="0.17"/>
<circle cx="199.9" cy="243.2" r="1.4" fill="none" stroke="#5064B4" stroke-width="0.45" stroke-opacity="0.17"/>
<circle cx="204.2" cy="225.8" r="1.8" fill="none" stroke="#5064B4" stroke-width="0.45" stroke-opacity="0.17"/>
<circle cx="188.9" cy="222.9" r="1.7" fill="none" stroke="#5064B4" stroke-width="0.45" stroke-opacity="0.17"/>
<circle cx="202.1" cy="246.6" r="1.9" fill="none" stroke="#5064B4" stroke-width="0.45" stroke-opacity="0.17"/>
<circle cx="237.8" cy="249.6" r="2.1" fill="none" stroke="#5064B4" stroke-width="0.45" stroke-opacity="0.17"/>
<circle cx="246.7" cy="238.4" r="1.7" fill="none" stroke="#5064B4" stroke-width="0.45" stroke-opacity="0.17"/>
<circle cx="253.9" cy="228.3" r="2.1" fill="none" stroke="#5064B4" stroke-width="0.45" stroke-opacity="0.17"/>
<circle cx="230.4" cy="223.8" r="2.2" fill="none" stroke="#5064B4" stroke-width="0.45" stroke-opacity="0.17"/>
<circle cx="247.5" cy="248.3" r="2.1" fill="none" stroke="#5064B4" stroke-width="0.45" stroke-opacity="0.17"/>
<circle cx="242.0" cy="227.9" r="1.9" fill="none" stroke="#5064B4" stroke-width="0.45" stroke-opacity="0.17"/>
<circle cx="220.8" cy="257.1" r="2.2" fill="none" stroke="#5064B4" stroke-width="0.45" stroke-opacity="0.17"/>
<circle cx="243.0" cy="246.5" r="2.3" fill="none" stroke="#5064B4" stroke-width="0.45" stroke-opacity="0.17"/>
<circle cx="233.1" cy="251.1" r="1.6" fill="none" stroke="#5064B4" stroke-width="0.45" stroke-opacity="0.17"/>
<circle cx="188.2" cy="227.6" r="1.8" fill="none" stroke="#5064B4" stroke-width="0.45" stroke-opacity="0.17"/>
<circle cx="193.2" cy="257.1" r="2.0" fill="none" stroke="#5064B4" stroke-width="0.45" stroke-opacity="0.17"/>
<circle cx="229.3" cy="248.3" r="2.1" fill="none" stroke="#5064B4" stroke-width="0.45" stroke-opacity="0.17"/>
<circle cx="219.8" cy="222.1" r="2.2" fill="none" stroke="#5064B4" stroke-width="0.45" stroke-opacity="0.17"/>
<circle cx="237.6" cy="243.1" r="1.9" fill="none" stroke="#5064B4" stroke-width="0.45" stroke-opacity="0.17"/>
<circle cx="231.5" cy="224.8" r="2.1" fill="none" stroke="#5064B4" stroke-width="0.45" stroke-opacity="0.17"/>
<circle cx="203.4" cy="225.1" r="1.7" fill="none" stroke="#5064B4" stroke-width="0.45" stroke-opacity="0.17"/>
<circle cx="236.3" cy="230.6" r="2.1" fill="none" stroke="#5064B4" stroke-width="0.45" stroke-opacity="0.17"/>
<circle cx="253.3" cy="242.7" r="1.8" fill="none" stroke="#5064B4" stroke-width="0.45" stroke-opacity="0.17"/>
<circle cx="219.1" cy="250.7" r="2.2" fill="none" stroke="#5064B4" stroke-width="0.45" stroke-opacity="0.17"/>
<circle cx="228.6" cy="249.0" r="1.5" fill="none" stroke="#5064B4" stroke-width="0.45" stroke-opacity="0.17"/>
<circle cx="196.2" cy="232.7" r="2.1" fill="none" stroke="#5064B4" stroke-width="0.45" stroke-opacity="0.17"/>
<circle cx="207.0" cy="245.8" r="1.4" fill="none" stroke="#5064B4" stroke-width="0.45" stroke-opacity="0.17"/>
<circle cx="190.2" cy="233.3" r="2.1" fill="none" stroke="#5064B4" stroke-width="0.45" stroke-opacity="0.17"/>
<circle cx="233.8" cy="250.4" r="1.7" fill="none" stroke="#5064B4" stroke-width="0.45" stroke-opacity="0.17"/>
<circle cx="221.6" cy="241.5" r="1.9" fill="none" stroke="#5064B4" stroke-width="0.45" stroke-opacity="0.17"/>
<circle cx="194.2" cy="259.5" r="1.6" fill="none" stroke="#5064B4" stroke-width="0.45" stroke-opacity="0.17"/>
<circle cx="253.5" cy="261.3" r="1.4" fill="none" stroke="#5064B4" stroke-width="0.45" stroke-opacity="0.17"/>
<circle cx="217.7" cy="256.4" r="2.4" fill="none" stroke="#5064B4" stroke-width="0.45" stroke-opacity="0.17"/>
<circle cx="217.0" cy="233.3" r="1.6" fill="none" stroke="#5064B4" stroke-width="0.45" stroke-opacity="0.17"/>
<circle cx="251.2" cy="230.8" r="2.0" fill="none" stroke="#5064B4" stroke-width="0.45" stroke-opacity="0.17"/>
<circle cx="195.8" cy="244.0" r="2.4" fill="none" stroke="#5064B4" stroke-width="0.45" stroke-opacity="0.17"/>
<circle cx="195.1" cy="256.4" r="1.9" fill="none" stroke="#5064B4" stroke-width="0.45" stroke-opacity="0.17"/>
<circle cx="247.2" cy="251.5" r="1.6" fill="none" stroke="#5064B4" stroke-width="0.45" stroke-opacity="0.17"/>
<circle cx="247.9" cy="242.4" r="1.4" fill="none" stroke="#5064B4" stroke-width="0.45" stroke-opacity="0.17"/>
<path d="M185.0 232.0L215.0 232.0L245.0 238.0L255.0 245.0L255.0 265.0L220.0 258.0L190.0 250.0Z" fill="#5064B4" fill-opacity="0.06" filter="url(#f3)"/>
<path d="M222.0 238.0L254.0 238.0L254.0 266.0L222.0 262.0Z" fill="#5064B4" fill-opacity="0.1" filter="url(#f3)"/>
<path d="M182.0 208.0L200.0 207.5L216.0 209.0L217.0 214.0L200.0 220.0L190.0 228.0L184.0 232.0L181.0 230.0Z" fill="url(#g12)" filter="url(#f11)"/>
<path d="M182.0 208.3L199.0 208.0L204.0 211.0L195.0 214.0L182.0 216.0Z" fill="#5064B4" fill-opacity="0.7" filter="url(#f13)"/>
<path d="M179.0 250.3L188.3 248.5L200.5 249.7L207.9 255.8L218.9 258.3L227.5 261.4L237.3 264.4L254.5 265.7L256.5 270.0L256.5 279.3L179.0 279.3Z" fill="url(#g15)" filter="url(#f14)"/>
</g>
<line x1="188" y1="273.2" x2="254.5" y2="270.8" stroke="rgba(255,255,255,0.3)" stroke-width="1.0"/>
<line x1="181.0" y1="264.4" x2="256.3" y2="264.4" stroke="#000" stroke-width="1.3"/>
<text x="179.7" y="291.6" font-size="11.5" text-anchor="start" font-weight="normal" font-style="normal" fill="#000" >0</text>
<text x="256.8" y="291.6" font-size="11.5" text-anchor="end" font-weight="normal" font-style="normal" fill="#000" >4</text>
<text x="172.3" y="310.3" font-size="11.5" text-anchor="start" font-weight="normal" font-style="normal" fill="#000" >ELEV (10<tspan font-size="7" dy="-4">3</tspan><tspan dy="4" dx="1.6">m)</tspan></text>
<text x="198.8" y="214.0" font-size="9.6" text-anchor="start" font-weight="normal" font-style="normal" fill="#000" ><tspan font-style="italic">P</tspan>&lt;0.001</text>
<rect x="285.6" y="201.8" width="74.69999999999999" height="75.0" fill="none" stroke="#000" stroke-width="1.2"/>
<line x1="288.2" y1="276.8" x2="288.2" y2="281.0" stroke="#000" stroke-width="1.1"/>
<line x1="358.3" y1="276.8" x2="358.3" y2="281.0" stroke="#000" stroke-width="1.1"/>
<g clip-path="url(#c16)">
<path d="M306.0 220.0L335.0 218.0L342.0 230.0L342.0 248.0L305.0 250.0L303.0 235.0Z" fill="#E3F7A0" fill-opacity="0.1" filter="url(#f17)"/>
<path d="M314.0 209.0L340.0 209.0L342.0 218.0L336.0 226.0L318.0 226.0L312.0 218.0Z" fill="#E3F7A0" fill-opacity="0.3" filter="url(#f3)"/>
<path d="M295.0 252.0L340.0 248.0L344.0 262.0L340.0 274.0L295.0 274.0Z" fill="#E3F7A0" fill-opacity="0.3" filter="url(#f18)"/>
<path d="M293.0 258.7L300.3 253.2L315.0 249.5L329.7 248.0L337.0 249.5L340.7 255.0L342.5 264.2L340.7 271.5L327.9 273.4L300.3 272.5L291.2 267.9L289.3 263.3Z" fill="#E3F7A0" fill-opacity="0.95" filter="url(#f19)"/>
<path d="M298.0 262.0L310.0 255.0L330.0 253.0L338.0 260.0L336.0 269.0L310.0 270.0L298.0 268.0Z" fill="#E3F7A0" fill-opacity="0.8" filter="url(#f2)"/>
</g>
<line x1="285.7" y1="269.3" x2="350.2" y2="260.0" stroke="#000" stroke-width="1.3"/>
<text x="286.2" y="291.6" font-size="11.5" text-anchor="start" font-weight="normal" font-style="normal" fill="#000" >9</text>
<text x="362.2" y="291.6" font-size="11.5" text-anchor="end" font-weight="normal" font-style="normal" fill="#000" >12</text>
<text x="307.2" y="310.3" font-size="11.5" text-anchor="start" font-weight="normal" font-style="normal" fill="#000" >CASC</text>
<text x="303.4" y="214.0" font-size="9.6" text-anchor="start" font-weight="normal" font-style="normal" fill="#000" ><tspan font-style="italic">P</tspan>&lt;0.001</text>
<rect x="390.0" y="201.8" width="75.0" height="75.19999999999999" fill="none" stroke="#000" stroke-width="1.2"/>
<line x1="390.8" y1="277.0" x2="390.8" y2="281.2" stroke="#000" stroke-width="1.1"/>
<line x1="463.8" y1="277.0" x2="463.8" y2="281.2" stroke="#000" stroke-width="1.1"/>
<g clip-path="url(#c20)">
<path d="M394.3 208.5L400.8 209.2L406.3 211.0L409.0 218.3L410.8 227.5L413.6 234.9L418.2 235.8L421.9 238.5L423.7 247.7L432.9 248.6L447.5 248.6L460.4 250.4L462.6 255.0L463.1 262.4L460.4 266.0L447.5 268.8L432.9 270.6L414.5 270.0L398.0 268.8L394.3 264.2L393.4 236.7L393.4 214.7Z" fill="#8AD9A8" fill-opacity="0.85" filter="url(#f6)"/>
<path d="M396.0 240.0L420.0 242.0L460.0 252.0L460.0 265.0L396.0 266.0Z" fill="#8AD9A8" fill-opacity="0.15" filter="url(#f21)"/>
</g>
<line x1="394.0" y1="256.0" x2="464.7" y2="259.6" stroke="#000" stroke-width="1.3"/>
<text x="390.1" y="291.6" font-size="11.5" text-anchor="start" font-weight="normal" font-style="normal" fill="#000" >2</text>
<text x="463.8" y="291.6" font-size="11.5" text-anchor="middle" font-weight="normal" font-style="normal" fill="#000" >20</text>
<text x="390.4" y="310.3" font-size="11.5" text-anchor="start" font-weight="normal" font-style="normal" fill="#000" >TESE (10<tspan font-size="7" dy="-4">2</tspan><tspan dy="4" dx="2.2">°C)</tspan></text>
<text x="409.4" y="214.0" font-size="9.6" text-anchor="start" font-weight="normal" font-style="normal" fill="#000" ><tspan font-style="italic">P</tspan>&lt;0.001</text>
<rect x="496.4" y="202.0" width="75.0" height="75.0" fill="none" stroke="#000" stroke-width="1.2"/>
<line x1="496.8" y1="277.0" x2="496.8" y2="281.2" stroke="#000" stroke-width="1.1"/>
<line x1="569.8" y1="277.0" x2="569.8" y2="281.2" stroke="#000" stroke-width="1.1"/>
<g clip-path="url(#c22)">
<circle cx="541.1" cy="245.4" r="1.7" fill="none" stroke="#EB6C46" stroke-width="0.45" stroke-opacity="0.35"/>
<circle cx="549.5" cy="242.3" r="1.6" fill="none" stroke="#EB6C46" stroke-width="0.45" stroke-opacity="0.35"/>
<circle cx="549.9" cy="248.6" r="1.3" fill="none" stroke="#EB6C46" stroke-width="0.45" stroke-opacity="0.35"/>
<circle cx="562.0" cy="248.6" r="1.4" fill="none" stroke="#EB6C46" stroke-width="0.45" stroke-opacity="0.35"/>
<circle cx="566.9" cy="247.4" r="2.1" fill="none" stroke="#EB6C46" stroke-width="0.45" stroke-opacity="0.35"/>
<circle cx="549.1" cy="244.3" r="1.6" fill="none" stroke="#EB6C46" stroke-width="0.45" stroke-opacity="0.35"/>
<circle cx="569.0" cy="246.3" r="1.6" fill="none" stroke="#EB6C46" stroke-width="0.45" stroke-opacity="0.35"/>
<circle cx="553.0" cy="243.5" r="1.3" fill="none" stroke="#EB6C46" stroke-width="0.45" stroke-opacity="0.35"/>
<circle cx="543.8" cy="248.5" r="1.5" fill="none" stroke="#EB6C46" stroke-width="0.45" stroke-opacity="0.35"/>
<circle cx="567.2" cy="243.2" r="1.5" fill="none" stroke="#EB6C46" stroke-width="0.45" stroke-opacity="0.35"/>
<circle cx="555.3" cy="242.7" r="1.6" fill="none" stroke="#EB6C46" stroke-width="0.45" stroke-opacity="0.35"/>
<circle cx="567.8" cy="249.0" r="2.0" fill="none" stroke="#EB6C46" stroke-width="0.45" stroke-opacity="0.35"/>
<circle cx="558.7" cy="249.2" r="2.1" fill="none" stroke="#EB6C46" stroke-width="0.45" stroke-opacity="0.35"/>
<circle cx="556.4" cy="247.5" r="1.3" fill="none" stroke="#EB6C46" stroke-width="0.45" stroke-opacity="0.35"/>
<circle cx="555.0" cy="259.1" r="1.9" fill="none" stroke="#EB6C46" stroke-width="0.45" stroke-opacity="0.4"/>
<circle cx="552.8" cy="257.6" r="1.3" fill="none" stroke="#EB6C46" stroke-width="0.45" stroke-opacity="0.4"/>
<circle cx="560.1" cy="256.1" r="1.7" fill="none" stroke="#EB6C46" stroke-width="0.45" stroke-opacity="0.4"/>
<circle cx="544.9" cy="257.7" r="1.9" fill="none" stroke="#EB6C46" stroke-width="0.45" stroke-opacity="0.4"/>
<circle cx="561.4" cy="257.3" r="1.9" fill="none" stroke="#EB6C46" stroke-width="0.45" stroke-opacity="0.4"/>
<circle cx="543.8" cy="260.0" r="1.6" fill="none" stroke="#EB6C46" stroke-width="0.45" stroke-opacity="0.4"/>
<circle cx="540.4" cy="256.5" r="1.4" fill="none" stroke="#EB6C46" stroke-width="0.45" stroke-opacity="0.4"/>
<circle cx="559.6" cy="259.5" r="1.5" fill="none" stroke="#EB6C46" stroke-width="0.45" stroke-opacity="0.4"/>
<circle cx="559.6" cy="264.0" r="1.7" fill="none" stroke="#EB6C46" stroke-width="0.45" stroke-opacity="0.4"/>
<circle cx="539.6" cy="256.7" r="1.3" fill="none" stroke="#EB6C46" stroke-width="0.45" stroke-opacity="0.4"/>
<circle cx="544.9" cy="255.8" r="1.5" fill="none" stroke="#EB6C46" stroke-width="0.45" stroke-opacity="0.4"/>
<circle cx="542.7" cy="260.1" r="2.1" fill="none" stroke="#EB6C46" stroke-width="0.45" stroke-opacity="0.4"/>
<circle cx="555.5" cy="258.7" r="1.6" fill="none" stroke="#EB6C46" stroke-width="0.45" stroke-opacity="0.4"/>
<circle cx="549.6" cy="258.4" r="1.6" fill="none" stroke="#EB6C46" stroke-width="0.45" stroke-opacity="0.4"/>
<circle cx="531.6" cy="221.2" r="2.1" fill="none" stroke="#EB6C46" stroke-width="0.45" stroke-opacity="0.35"/>
<circle cx="533.3" cy="228.6" r="1.8" fill="none" stroke="#EB6C46" stroke-width="0.45" stroke-opacity="0.35"/>
<circle cx="552.4" cy="219.1" r="1.5" fill="none" stroke="#EB6C46" stroke-width="0.45" stroke-opacity="0.35"/>
<circle cx="536.5" cy="225.2" r="1.7" fill="none" stroke="#EB6C46" stroke-width="0.45" stroke-opacity="0.35"/>
<circle cx="554.8" cy="240.0" r="2.0" fill="none" stroke="#EB6C46" stroke-width="0.45" stroke-opacity="0.35"/>
<circle cx="530.6" cy="213.1" r="1.9" fill="none" stroke="#EB6C46" stroke-width="0.45" stroke-opacity="0.35"/>
<circle cx="553.3" cy="227.6" r="1.8" fill="none" stroke="#EB6C46" stroke-width="0.45" stroke-opacity="0.35"/>
<circle cx="530.0" cy="224.9" r="2.1" fill="none" stroke="#EB6C46" stroke-width="0.45" stroke-opacity="0.35"/>
<circle cx="551.5" cy="240.2" r="2.1" fill="none" stroke="#EB6C46" stroke-width="0.45" stroke-opacity="0.35"/>
<circle cx="536.5" cy="215.6" r="1.4" fill="none" stroke="#EB6C46" stroke-width="0.45" stroke-opacity="0.35"/>
<circle cx="543.6" cy="234.5" r="2.1" fill="none" stroke="#EB6C46" stroke-width="0.45" stroke-opacity="0.35"/>
<circle cx="548.8" cy="233.4" r="1.9" fill="none" stroke="#EB6C46" stroke-width="0.45" stroke-opacity="0.35"/>
<circle cx="541.9" cy="230.2" r="1.3" fill="none" stroke="#EB6C46" stroke-width="0.45" stroke-opacity="0.35"/>
<circle cx="550.3" cy="219.7" r="2.1" fill="none" stroke="#EB6C46" stroke-width="0.45" stroke-opacity="0.35"/>
<circle cx="546.8" cy="222.0" r="1.4" fill="none" stroke="#EB6C46" stroke-width="0.45" stroke-opacity="0.35"/>
<circle cx="536.5" cy="233.0" r="1.9" fill="none" stroke="#EB6C46" stroke-width="0.45" stroke-opacity="0.35"/>
<circle cx="532.9" cy="214.3" r="1.7" fill="none" stroke="#EB6C46" stroke-width="0.45" stroke-opacity="0.35"/>
<circle cx="545.2" cy="224.8" r="1.5" fill="none" stroke="#EB6C46" stroke-width="0.45" stroke-opacity="0.35"/>
<circle cx="545.6" cy="212.3" r="1.5" fill="none" stroke="#EB6C46" stroke-width="0.45" stroke-opacity="0.35"/>
<circle cx="542.0" cy="243.6" r="1.8" fill="none" stroke="#EB6C46" stroke-width="0.45" stroke-opacity="0.35"/>
<circle cx="553.0" cy="227.7" r="1.5" fill="none" stroke="#EB6C46" stroke-width="0.45" stroke-opacity="0.35"/>
<circle cx="536.4" cy="243.7" r="1.9" fill="none" stroke="#EB6C46" stroke-width="0.45" stroke-opacity="0.35"/>
<circle cx="538.0" cy="212.7" r="1.7" fill="none" stroke="#EB6C46" stroke-width="0.45" stroke-opacity="0.35"/>
<circle cx="547.5" cy="225.9" r="1.5" fill="none" stroke="#EB6C46" stroke-width="0.45" stroke-opacity="0.35"/>
<circle cx="547.4" cy="242.5" r="1.5" fill="none" stroke="#EB6C46" stroke-width="0.45" stroke-opacity="0.35"/>
<path d="M515.8 214.7L528.7 213.8L539.7 218.3L550.7 223.8L555.3 231.2L552.5 240.4L539.7 244.0L528.7 244.0L514.0 244.0L510.3 227.5Z" fill="#EB6C46" fill-opacity="0.7" filter="url(#f14)"/>
<path d="M514.0 216.0L526.0 216.0L530.0 227.5L530.0 242.2L528.0 253.2L510.3 253.2L509.4 236.7L511.0 223.8Z" fill="url(#g23)" filter="url(#f14)"/>
<path d="M497.5 249.5L510.3 247.7L523.2 251.4L528.7 255.0L536.0 258.7L536.0 266.0L528.7 270.6L514.0 271.5L503.0 269.7L497.5 264.2Z" fill="#EB6C46" fill-opacity="0.97" filter="url(#f13)"/>
<path d="M494.8 250.4L504.8 249.5L504.8 258.7L494.8 256.9Z" fill="#EB6C46" fill-opacity="0.55" filter="url(#f11)"/>
<path d="M536.0 256.9L561.7 257.8L561.7 262.4L536.0 263.3Z" fill="#EB6C46" fill-opacity="0.3" filter="url(#f11)"/>
</g>
<line x1="496.4" y1="266.0" x2="571.4" y2="233.0" stroke="#000" stroke-width="1.3"/>
<text x="496.3" y="291.6" font-size="11.5" text-anchor="start" font-weight="normal" font-style="normal" fill="#000" >0</text>
<text x="567.9" y="291.6" font-size="11.5" text-anchor="middle" font-weight="normal" font-style="normal" fill="#000" >20</text>
<text x="496.0" y="310.3" font-size="11.5" text-anchor="start" font-weight="normal" font-style="normal" fill="#000" >POWQ (10<tspan font-size="7" dy="-4">2</tspan><tspan dy="4" dx="1.6">m)</tspan></text>
<text x="517.3" y="214.0" font-size="9.6" text-anchor="start" font-weight="normal" font-style="normal" fill="#000" ><tspan font-style="italic">P</tspan>&lt;0.001</text>
<rect x="600.9" y="202.0" width="75.10000000000002" height="75.0" fill="none" stroke="#000" stroke-width="1.2"/>
<line x1="601.6" y1="277.0" x2="601.6" y2="281.2" stroke="#000" stroke-width="1.1"/>
<line x1="675.0" y1="277.0" x2="675.0" y2="281.2" stroke="#000" stroke-width="1.1"/>
<g clip-path="url(#c24)">
<circle cx="603.4" cy="224.2" r="1.8" fill="none" stroke="#5064B4" stroke-width="0.45" stroke-opacity="0.25"/>
<circle cx="649.5" cy="218.3" r="2.2" fill="none" stroke="#5064B4" stroke-width="0.45" stroke-opacity="0.25"/>
<circle cx="653.5" cy="231.2" r="1.6" fill="none" stroke="#5064B4" stroke-width="0.45" stroke-opacity="0.25"/>
<circle cx="669.9" cy="223.1" r="2.2" fill="none" stroke="#5064B4" stroke-width="0.45" stroke-opacity="0.25"/>
<circle cx="617.4" cy="219.3" r="2.2" fill="none" stroke="#5064B4" stroke-width="0.45" stroke-opacity="0.25"/>
<circle cx="621.9" cy="250.0" r="1.9" fill="none" stroke="#5064B4" stroke-width="0.45" stroke-opacity="0.25"/>
<circle cx="614.3" cy="219.4" r="1.8" fill="none" stroke="#5064B4" stroke-width="0.45" stroke-opacity="0.25"/>
<circle cx="648.2" cy="249.8" r="1.5" fill="none" stroke="#5064B4" stroke-width="0.45" stroke-opacity="0.25"/>
<circle cx="628.9" cy="218.9" r="2.4" fill="none" stroke="#5064B4" stroke-width="0.45" stroke-opacity="0.25"/>
<circle cx="611.1" cy="212.2" r="1.5" fill="none" stroke="#5064B4" stroke-width="0.45" stroke-opacity="0.25"/>
<circle cx="628.9" cy="247.7" r="2.3" fill="none" stroke="#5064B4" stroke-width="0.45" stroke-opacity="0.25"/>
<circle cx="653.0" cy="251.9" r="2.3" fill="none" stroke="#5064B4" stroke-width="0.45" stroke-opacity="0.25"/>
<circle cx="624.4" cy="217.8" r="2.3" fill="none" stroke="#5064B4" stroke-width="0.45" stroke-opacity="0.25"/>
<circle cx="654.0" cy="211.3" r="2.1" fill="none" stroke="#5064B4" stroke-width="0.45" stroke-opacity="0.25"/>
<circle cx="627.9" cy="225.7" r="1.7" fill="none" stroke="#5064B4" stroke-width="0.45" stroke-opacity="0.25"/>
<circle cx="613.0" cy="210.1" r="1.7" fill="none" stroke="#5064B4" stroke-width="0.45" stroke-opacity="0.25"/>
<circle cx="626.0" cy="250.1" r="1.5" fill="none" stroke="#5064B4" stroke-width="0.45" stroke-opacity="0.25"/>
<circle cx="669.5" cy="218.7" r="1.8" fill="none" stroke="#5064B4" stroke-width="0.45" stroke-opacity="0.25"/>
<circle cx="659.3" cy="244.5" r="1.8" fill="none" stroke="#5064B4" stroke-width="0.45" stroke-opacity="0.25"/>
<circle cx="604.5" cy="229.9" r="1.8" fill="none" stroke="#5064B4" stroke-width="0.45" stroke-opacity="0.25"/>
<circle cx="666.3" cy="218.1" r="1.8" fill="none" stroke="#5064B4" stroke-width="0.45" stroke-opacity="0.25"/>
<circle cx="664.7" cy="211.3" r="1.8" fill="none" stroke="#5064B4" stroke-width="0.45" stroke-opacity="0.25"/>
<circle cx="658.6" cy="242.2" r="1.4" fill="none" stroke="#5064B4" stroke-width="0.45" stroke-opacity="0.25"/>
<circle cx="603.5" cy="212.6" r="2.3" fill="none" stroke="#5064B4" stroke-width="0.45" stroke-opacity="0.25"/>
<circle cx="619.2" cy="241.4" r="2.3" fill="none" stroke="#5064B4" stroke-width="0.45" stroke-opacity="0.25"/>
<path d="M601.7 217.4L609.0 214.7L620.0 213.8L631.0 214.7L640.2 218.3L645.7 223.8L640.2 229.4L634.7 233.0L642.0 235.8L649.4 238.5L651.2 244.0L658.5 247.7L665.9 249.5L667.7 253.2L675.0 258.7L678.7 262.4L678.7 268.8L653.0 270.6L616.3 271.5L599.8 269.7L599.8 218.3Z" fill="#5064B4" fill-opacity="0.72" filter="url(#f13)"/>
<path d="M601.0 222.0L615.0 220.0L630.0 226.0L634.0 240.0L648.0 246.0L660.0 252.0L670.0 258.0L601.0 258.0Z" fill="#5064B4" fill-opacity="0.75" filter="url(#f11)"/>
<path d="M600.0 256.0L640.0 255.0L678.0 261.0L678.0 269.0L640.0 271.0L600.0 270.0Z" fill="#5064B4" fill-opacity="0.97" filter="url(#f6)"/>
</g>
<line x1="600.8" y1="256.5" x2="676.0" y2="262.7" stroke="#000" stroke-width="1.3"/>
<text x="599.8" y="291.6" font-size="11.5" text-anchor="start" font-weight="normal" font-style="normal" fill="#000" >0</text>
<text x="677.3" y="291.6" font-size="11.5" text-anchor="end" font-weight="normal" font-style="normal" fill="#000" >5</text>
<text x="610.2" y="310.3" font-size="11.5" text-anchor="start" font-weight="normal" font-style="normal" fill="#000" >ELEV (10<tspan font-size="7" dy="-4">3</tspan><tspan dy="4" dx="1.6">m)</tspan></text>
<text x="619.4" y="214.0" font-size="9.6" text-anchor="start" font-weight="normal" font-style="normal" fill="#000" ><tspan font-style="italic">P</tspan>&lt;0.001</text>
<rect x="74.4" y="323.8" width="75.6" height="74.59999999999997" fill="none" stroke="#000" stroke-width="1.2"/>
<line x1="75.2" y1="398.4" x2="75.2" y2="402.59999999999997" stroke="#000" stroke-width="1.1"/>
<line x1="146.0" y1="398.4" x2="146.0" y2="402.59999999999997" stroke="#000" stroke-width="1.1"/>
<line x1="70.2" y1="329.4" x2="74.4" y2="329.4" stroke="#000" stroke-width="1.1"/>
<line x1="70.2" y1="393.6" x2="74.4" y2="393.6" stroke="#000" stroke-width="1.1"/>
<g clip-path="url(#c25)">
<circle cx="101.6" cy="344.5" r="2.1" fill="none" stroke="#EB6C46" stroke-width="0.45" stroke-opacity="0.3"/>
<circle cx="112.7" cy="344.2" r="1.9" fill="none" stroke="#EB6C46" stroke-width="0.45" stroke-opacity="0.3"/>
<circle cx="100.7" cy="344.6" r="1.3" fill="none" stroke="#EB6C46" stroke-width="0.45" stroke-opacity="0.3"/>
<circle cx="118.2" cy="367.1" r="1.8" fill="none" stroke="#EB6C46" stroke-width="0.45" stroke-opacity="0.3"/>
<circle cx="125.7" cy="335.8" r="1.5" fill="none" stroke="#EB6C46" stroke-width="0.45" stroke-opacity="0.3"/>
<circle cx="107.0" cy="368.5" r="2.1" fill="none" stroke="#EB6C46" stroke-width="0.45" stroke-opacity="0.3"/>
<circle cx="103.5" cy="343.8" r="1.6" fill="none" stroke="#EB6C46" stroke-width="0.45" stroke-opacity="0.3"/>
<circle cx="107.7" cy="367.5" r="1.4" fill="none" stroke="#EB6C46" stroke-width="0.45" stroke-opacity="0.3"/>
<circle cx="120.1" cy="360.8" r="2.0" fill="none" stroke="#EB6C46" stroke-width="0.45" stroke-opacity="0.3"/>
<circle cx="118.9" cy="356.3" r="1.6" fill="none" stroke="#EB6C46" stroke-width="0.45" stroke-opacity="0.3"/>
<circle cx="100.8" cy="347.7" r="2.0" fill="none" stroke="#EB6C46" stroke-width="0.45" stroke-opacity="0.3"/>
<circle cx="91.2" cy="341.9" r="1.9" fill="none" stroke="#EB6C46" stroke-width="0.45" stroke-opacity="0.3"/>
<circle cx="97.9" cy="337.3" r="1.3" fill="none" stroke="#EB6C46" stroke-width="0.45" stroke-opacity="0.3"/>
<circle cx="110.1" cy="346.4" r="2.1" fill="none" stroke="#EB6C46" stroke-width="0.45" stroke-opacity="0.3"/>
<circle cx="123.3" cy="369.6" r="1.5" fill="none" stroke="#EB6C46" stroke-width="0.45" stroke-opacity="0.3"/>
<circle cx="91.4" cy="338.4" r="1.7" fill="none" stroke="#EB6C46" stroke-width="0.45" stroke-opacity="0.3"/>
<circle cx="116.4" cy="350.6" r="1.5" fill="none" stroke="#EB6C46" stroke-width="0.45" stroke-opacity="0.3"/>
<circle cx="104.7" cy="356.7" r="1.9" fill="none" stroke="#EB6C46" stroke-width="0.45" stroke-opacity="0.3"/>
<circle cx="117.9" cy="364.6" r="1.9" fill="none" stroke="#EB6C46" stroke-width="0.45" stroke-opacity="0.3"/>
<circle cx="92.8" cy="364.4" r="1.5" fill="none" stroke="#EB6C46" stroke-width="0.45" stroke-opacity="0.3"/>
<circle cx="110.7" cy="348.1" r="1.9" fill="none" stroke="#EB6C46" stroke-width="0.45" stroke-opacity="0.3"/>
<circle cx="96.0" cy="343.7" r="1.5" fill="none" stroke="#EB6C46" stroke-width="0.45" stroke-opacity="0.3"/>
<circle cx="94.1" cy="365.9" r="1.8" fill="none" stroke="#EB6C46" stroke-width="0.45" stroke-opacity="0.3"/>
<circle cx="101.1" cy="348.9" r="2.2" fill="none" stroke="#EB6C46" stroke-width="0.45" stroke-opacity="0.3"/>
<circle cx="108.3" cy="343.1" r="2.0" fill="none" stroke="#EB6C46" stroke-width="0.45" stroke-opacity="0.3"/>
<circle cx="114.1" cy="369.7" r="1.4" fill="none" stroke="#EB6C46" stroke-width="0.45" stroke-opacity="0.3"/>
<circle cx="107.0" cy="363.7" r="2.0" fill="none" stroke="#EB6C46" stroke-width="0.45" stroke-opacity="0.3"/>
<circle cx="124.6" cy="336.4" r="1.5" fill="none" stroke="#EB6C46" stroke-width="0.45" stroke-opacity="0.3"/>
<circle cx="92.8" cy="341.6" r="2.1" fill="none" stroke="#EB6C46" stroke-width="0.45" stroke-opacity="0.3"/>
<circle cx="111.3" cy="367.6" r="1.6" fill="none" stroke="#EB6C46" stroke-width="0.45" stroke-opacity="0.3"/>
<circle cx="122.6" cy="350.7" r="1.5" fill="none" stroke="#EB6C46" stroke-width="0.45" stroke-opacity="0.3"/>
<circle cx="119.1" cy="368.1" r="1.4" fill="none" stroke="#EB6C46" stroke-width="0.45" stroke-opacity="0.3"/>
<circle cx="111.8" cy="356.7" r="1.5" fill="none" stroke="#EB6C46" stroke-width="0.45" stroke-opacity="0.3"/>
<circle cx="102.7" cy="339.9" r="1.4" fill="none" stroke="#EB6C46" stroke-width="0.45" stroke-opacity="0.3"/>
<circle cx="98.2" cy="356.0" r="1.8" fill="none" stroke="#EB6C46" stroke-width="0.45" stroke-opacity="0.3"/>
<circle cx="96.1" cy="335.4" r="1.6" fill="none" stroke="#EB6C46" stroke-width="0.45" stroke-opacity="0.3"/>
<circle cx="115.1" cy="341.5" r="1.5" fill="none" stroke="#EB6C46" stroke-width="0.45" stroke-opacity="0.3"/>
<circle cx="96.1" cy="362.8" r="1.8" fill="none" stroke="#EB6C46" stroke-width="0.45" stroke-opacity="0.3"/>
<circle cx="90.5" cy="338.5" r="1.6" fill="none" stroke="#EB6C46" stroke-width="0.45" stroke-opacity="0.3"/>
<circle cx="110.0" cy="357.4" r="1.3" fill="none" stroke="#EB6C46" stroke-width="0.45" stroke-opacity="0.3"/>
<circle cx="121.6" cy="340.4" r="1.6" fill="none" stroke="#EB6C46" stroke-width="0.45" stroke-opacity="0.3"/>
<circle cx="124.2" cy="334.6" r="2.1" fill="none" stroke="#EB6C46" stroke-width="0.45" stroke-opacity="0.3"/>
<circle cx="124.9" cy="338.5" r="1.6" fill="none" stroke="#EB6C46" stroke-width="0.45" stroke-opacity="0.3"/>
<circle cx="127.2" cy="343.0" r="2.2" fill="none" stroke="#EB6C46" stroke-width="0.45" stroke-opacity="0.3"/>
<circle cx="126.0" cy="333.0" r="1.9" fill="none" stroke="#EB6C46" stroke-width="0.45" stroke-opacity="0.3"/>
<circle cx="122.5" cy="330.1" r="2.1" fill="none" stroke="#EB6C46" stroke-width="0.45" stroke-opacity="0.3"/>
<circle cx="127.3" cy="342.3" r="1.6" fill="none" stroke="#EB6C46" stroke-width="0.45" stroke-opacity="0.3"/>
<circle cx="137.4" cy="336.9" r="1.4" fill="none" stroke="#EB6C46" stroke-width="0.45" stroke-opacity="0.3"/>
<circle cx="118.3" cy="338.3" r="1.8" fill="none" stroke="#EB6C46" stroke-width="0.45" stroke-opacity="0.3"/>
<circle cx="138.0" cy="331.3" r="1.8" fill="none" stroke="#EB6C46" stroke-width="0.45" stroke-opacity="0.3"/>
<circle cx="134.0" cy="383.5" r="1.5" fill="none" stroke="#EB6C46" stroke-width="0.45" stroke-opacity="0.5"/>
<circle cx="131.6" cy="383.6" r="2.3" fill="none" stroke="#EB6C46" stroke-width="0.45" stroke-opacity="0.5"/>
<circle cx="126.9" cy="383.5" r="2.2" fill="none" stroke="#EB6C46" stroke-width="0.45" stroke-opacity="0.5"/>
<circle cx="150.1" cy="382.0" r="1.5" fill="none" stroke="#EB6C46" stroke-width="0.45" stroke-opacity="0.5"/>
<circle cx="149.5" cy="385.9" r="1.9" fill="none" stroke="#EB6C46" stroke-width="0.45" stroke-opacity="0.5"/>
<circle cx="125.4" cy="385.6" r="1.8" fill="none" stroke="#EB6C46" stroke-width="0.45" stroke-opacity="0.5"/>
<circle cx="148.4" cy="384.1" r="2.2" fill="none" stroke="#EB6C46" stroke-width="0.45" stroke-opacity="0.5"/>
<circle cx="128.3" cy="384.9" r="1.6" fill="none" stroke="#EB6C46" stroke-width="0.45" stroke-opacity="0.5"/>
<circle cx="134.9" cy="385.2" r="2.2" fill="none" stroke="#EB6C46" stroke-width="0.45" stroke-opacity="0.5"/>
<circle cx="128.9" cy="382.1" r="1.8" fill="none" stroke="#EB6C46" stroke-width="0.45" stroke-opacity="0.5"/>
<circle cx="138.0" cy="382.9" r="1.5" fill="none" stroke="#EB6C46" stroke-width="0.45" stroke-opacity="0.5"/>
<circle cx="130.7" cy="384.6" r="2.3" fill="none" stroke="#EB6C46" stroke-width="0.45" stroke-opacity="0.5"/>
<circle cx="125.1" cy="383.8" r="2.2" fill="none" stroke="#EB6C46" stroke-width="0.45" stroke-opacity="0.5"/>
<circle cx="125.0" cy="385.2" r="1.5" fill="none" stroke="#EB6C46" stroke-width="0.45" stroke-opacity="0.5"/>
<circle cx="140.2" cy="383.8" r="2.0" fill="none" stroke="#EB6C46" stroke-width="0.45" stroke-opacity="0.5"/>
<circle cx="132.3" cy="383.1" r="2.0" fill="none" stroke="#EB6C46" stroke-width="0.45" stroke-opacity="0.5"/>
<circle cx="135.5" cy="384.3" r="1.8" fill="none" stroke="#EB6C46" stroke-width="0.45" stroke-opacity="0.5"/>
<circle cx="135.8" cy="381.1" r="2.0" fill="none" stroke="#EB6C46" stroke-width="0.45" stroke-opacity="0.5"/>
<circle cx="137.2" cy="382.2" r="2.2" fill="none" stroke="#EB6C46" stroke-width="0.45" stroke-opacity="0.5"/>
<circle cx="145.1" cy="383.3" r="1.6" fill="none" stroke="#EB6C46" stroke-width="0.45" stroke-opacity="0.5"/>
<circle cx="136.8" cy="381.5" r="1.5" fill="none" stroke="#EB6C46" stroke-width="0.45" stroke-opacity="0.5"/>
<circle cx="135.6" cy="381.5" r="1.8" fill="none" stroke="#EB6C46" stroke-width="0.45" stroke-opacity="0.5"/>
<circle cx="137.8" cy="381.2" r="2.0" fill="none" stroke="#EB6C46" stroke-width="0.45" stroke-opacity="0.5"/>
<circle cx="126.2" cy="384.7" r="2.2" fill="none" stroke="#EB6C46" stroke-width="0.45" stroke-opacity="0.5"/>
<circle cx="137.8" cy="381.3" r="1.9" fill="none" stroke="#EB6C46" stroke-width="0.45" stroke-opacity="0.5"/>
<circle cx="134.2" cy="385.8" r="1.5" fill="none" stroke="#EB6C46" stroke-width="0.45" stroke-opacity="0.5"/>
<circle cx="147.1" cy="386.0" r="2.1" fill="none" stroke="#EB6C46" stroke-width="0.45" stroke-opacity="0.5"/>
<circle cx="146.0" cy="382.0" r="2.4" fill="none" stroke="#EB6C46" stroke-width="0.45" stroke-opacity="0.5"/>
<circle cx="128.8" cy="391.7" r="2.3" fill="none" stroke="#EB6C46" stroke-width="0.45" stroke-opacity="0.25"/>
<circle cx="121.6" cy="390.7" r="2.3" fill="none" stroke="#EB6C46" stroke-width="0.45" stroke-opacity="0.25"/>
<circle cx="119.4" cy="388.1" r="2.2" fill="none" stroke="#EB6C46" stroke-width="0.45" stroke-opacity="0.25"/>
<circle cx="121.5" cy="391.4" r="1.7" fill="none" stroke="#EB6C46" stroke-width="0.45" stroke-opacity="0.25"/>
<circle cx="135.9" cy="386.9" r="1.9" fill="none" stroke="#EB6C46" stroke-width="0.45" stroke-opacity="0.25"/>
<circle cx="138.2" cy="387.2" r="1.7" fill="none" stroke="#EB6C46" stroke-width="0.45" stroke-opacity="0.25"/>
<circle cx="129.1" cy="387.9" r="1.4" fill="none" stroke="#EB6C46" stroke-width="0.45" stroke-opacity="0.25"/>
<circle cx="122.0" cy="387.0" r="2.3" fill="none" stroke="#EB6C46" stroke-width="0.45" stroke-opacity="0.25"/>
<circle cx="133.0" cy="391.4" r="1.6" fill="none" stroke="#EB6C46" stroke-width="0.45" stroke-opacity="0.25"/>
<circle cx="135.3" cy="386.7" r="1.9" fill="none" stroke="#EB6C46" stroke-width="0.45" stroke-opacity="0.25"/>
<path d="M94.0 334.0L122.0 334.0L121.0 340.3L116.0 347.7L109.0 354.0L101.5 347.7L96.0 340.3Z" fill="url(#g27)" filter="url(#f26)"/>
<path d="M92.0 329.0L123.0 329.0L124.0 335.0L117.0 338.0L98.0 337.5Z" fill="#EB6C46" fill-opacity="0.9" filter="url(#f6)"/>
<path d="M90.0 356.0L96.0 356.0L96.0 369.0L89.4 370.0Z" fill="#EB6C46" fill-opacity="0.45" filter="url(#f28)"/>
<path d="M90.3 369.7L95.8 367.9L108.7 368.8L116.0 371.5L116.0 377.0L121.5 380.7L125.2 385.3L123.4 389.9L116.0 391.7L110.5 395.4L108.7 400.9L86.7 400.9L86.7 395.4L79.3 394.5L76.6 390.8L79.3 387.1L86.7 386.2L89.4 377.0Z" fill="#EB6C46" fill-opacity="0.97" filter="url(#f14)"/>
<path d="M123.4 380.5L152.7 380.5L152.7 386.0L123.4 386.0Z" fill="#EB6C46" fill-opacity="0.3" filter="url(#f11)"/>
<path d="M118.0 386.0L140.0 386.0L140.0 392.0L118.0 392.0Z" fill="#EB6C46" fill-opacity="0.12" filter="url(#f21)"/>
</g>
<line x1="77.1" y1="394.1" x2="149.5" y2="365.8" stroke="#000" stroke-width="1.3"/>
<text x="74.6" y="413.4" font-size="11.5" text-anchor="start" font-weight="normal" font-style="normal" fill="#000" >0</text>
<text x="144.2" y="413.4" font-size="11.5" text-anchor="middle" font-weight="normal" font-style="normal" fill="#000" >16</text>
<text x="74.6" y="431.6" font-size="11.5" text-anchor="start" font-weight="normal" font-style="normal" fill="#000" >POWQ (10<tspan font-size="7" dy="-4">2</tspan><tspan dy="4" dx="1.6">m)</tspan></text>
<text x="95.3" y="336.2" font-size="9.6" text-anchor="start" font-weight="normal" font-style="normal" fill="#000" ><tspan font-style="italic">P</tspan>&lt;0.001</text>
<text x="64.8" y="319.1" font-size="11.5" text-anchor="end" font-weight="normal" font-style="normal" fill="#000" >3</text>
<text x="64.8" y="398.0" font-size="11.5" text-anchor="end" font-weight="normal" font-style="normal" fill="#000" >0</text>
<rect x="179.6" y="323.8" width="75.20000000000002" height="75.39999999999998" fill="none" stroke="#000" stroke-width="1.2"/>
<line x1="180.6" y1="399.2" x2="180.6" y2="403.4" stroke="#000" stroke-width="1.1"/>
<line x1="250.4" y1="399.2" x2="250.4" y2="403.4" stroke="#000" stroke-width="1.1"/>
<g clip-path="url(#c29)">
<path d="M196.0 340.0L230.0 345.0L250.0 365.0L250.0 380.0L195.0 375.0Z" fill="#EDD98A" fill-opacity="0.25" filter="url(#f3)"/>
<path d="M195.0 335.0L209.0 335.0L208.2 340.0L206.4 346.0L202.7 353.0L199.0 348.0L196.3 341.0Z" fill="url(#g30)" filter="url(#f28)"/>
<path d="M193.0 330.0L210.0 329.8L212.0 334.0L207.0 337.5L195.0 338.0Z" fill="#EDD98A" fill-opacity="0.97" filter="url(#f6)"/>
<path d="M188.0 368.0L210.0 364.0L235.0 368.0L255.0 378.0L255.0 392.0L188.0 390.0Z" fill="#EDD98A" fill-opacity="0.6" filter="url(#f21)"/>
<path d="M188.0 375.2L195.3 372.5L204.5 369.7L213.7 370.6L224.7 374.3L235.7 377.0L246.7 382.5L254.0 385.3L257.7 391.7L255.9 397.2L232.0 395.4L204.5 394.5L189.8 393.5L186.2 388.0Z" fill="#EDD98A" fill-opacity="0.97" filter="url(#f13)"/>
<path d="M190.0 396.0L257.0 396.0L257.0 400.5L190.0 400.5Z" fill="#EDD98A" fill-opacity="0.7" filter="url(#f9)"/>
</g>
<line x1="188.4" y1="382.0" x2="254.0" y2="391.3" stroke="#000" stroke-width="1.3"/>
<text x="179.1" y="413.4" font-size="11.5" text-anchor="start" font-weight="normal" font-style="normal" fill="#000" >4</text>
<text x="250.1" y="413.4" font-size="11.5" text-anchor="middle" font-weight="normal" font-style="normal" fill="#000" >8</text>
<text x="183.4" y="431.6" font-size="11.5" text-anchor="start" font-weight="normal" font-style="normal" fill="#000" >SOPH (10<tspan font-size="7" dy="-4">2</tspan><tspan dy="4">g)</tspan></text>
<text x="198.8" y="336.2" font-size="9.6" text-anchor="start" font-weight="normal" font-style="normal" fill="#000" ><tspan font-style="italic">P</tspan>&lt;0.001</text>
<rect x="285.6" y="323.8" width="75.19999999999999" height="75.39999999999998" fill="none" stroke="#000" stroke-width="1.2"/>
<line x1="286.9" y1="399.2" x2="286.9" y2="403.4" stroke="#000" stroke-width="1.1"/>
<line x1="357.2" y1="399.2" x2="357.2" y2="403.4" stroke="#000" stroke-width="1.1"/>
<g clip-path="url(#c31)">
<circle cx="310.0" cy="341.8" r="2.0" fill="none" stroke="#A3164B" stroke-width="0.45" stroke-opacity="0.45"/>
<circle cx="307.3" cy="345.3" r="2.1" fill="none" stroke="#A3164B" stroke-width="0.45" stroke-opacity="0.45"/>
<circle cx="292.5" cy="351.9" r="1.8" fill="none" stroke="#A3164B" stroke-width="0.45" stroke-opacity="0.45"/>
<circle cx="302.0" cy="348.8" r="1.5" fill="none" stroke="#A3164B" stroke-width="0.45" stroke-opacity="0.45"/>
<circle cx="321.7" cy="345.2" r="1.6" fill="none" stroke="#A3164B" stroke-width="0.45" stroke-opacity="0.45"/>
<circle cx="314.2" cy="343.1" r="1.4" fill="none" stroke="#A3164B" stroke-width="0.45" stroke-opacity="0.45"/>
<circle cx="313.5" cy="336.8" r="2.0" fill="none" stroke="#A3164B" stroke-width="0.45" stroke-opacity="0.45"/>
<circle cx="297.4" cy="346.2" r="2.1" fill="none" stroke="#A3164B" stroke-width="0.45" stroke-opacity="0.45"/>
<circle cx="308.3" cy="346.6" r="1.5" fill="none" stroke="#A3164B" stroke-width="0.45" stroke-opacity="0.45"/>
<circle cx="289.1" cy="336.5" r="1.4" fill="none" stroke="#A3164B" stroke-width="0.45" stroke-opacity="0.45"/>
<circle cx="309.3" cy="342.9" r="1.7" fill="none" stroke="#A3164B" stroke-width="0.45" stroke-opacity="0.45"/>
<circle cx="318.6" cy="338.1" r="1.5" fill="none" stroke="#A3164B" stroke-width="0.45" stroke-opacity="0.45"/>
<circle cx="310.6" cy="336.4" r="1.3" fill="none" stroke="#A3164B" stroke-width="0.45" stroke-opacity="0.45"/>
<circle cx="300.7" cy="337.7" r="1.6" fill="none" stroke="#A3164B" stroke-width="0.45" stroke-opacity="0.45"/>
<circle cx="296.4" cy="345.3" r="1.8" fill="none" stroke="#A3164B" stroke-width="0.45" stroke-opacity="0.45"/>
<circle cx="295.7" cy="346.0" r="1.7" fill="none" stroke="#A3164B" stroke-width="0.45" stroke-opacity="0.45"/>
<circle cx="293.4" cy="351.0" r="1.5" fill="none" stroke="#A3164B" stroke-width="0.45" stroke-opacity="0.45"/>
<circle cx="293.9" cy="337.5" r="1.8" fill="none" stroke="#A3164B" stroke-width="0.45" stroke-opacity="0.45"/>
<circle cx="317.8" cy="348.5" r="1.6" fill="none" stroke="#A3164B" stroke-width="0.45" stroke-opacity="0.45"/>
<circle cx="297.7" cy="336.2" r="1.8" fill="none" stroke="#A3164B" stroke-width="0.45" stroke-opacity="0.45"/>
<circle cx="307.6" cy="341.6" r="1.8" fill="none" stroke="#A3164B" stroke-width="0.45" stroke-opacity="0.45"/>
<circle cx="303.6" cy="351.0" r="1.9" fill="none" stroke="#A3164B" stroke-width="0.45" stroke-opacity="0.45"/>
<circle cx="297.2" cy="350.5" r="1.3" fill="none" stroke="#A3164B" stroke-width="0.45" stroke-opacity="0.45"/>
<circle cx="306.5" cy="342.5" r="1.5" fill="none" stroke="#A3164B" stroke-width="0.45" stroke-opacity="0.45"/>
<circle cx="290.9" cy="348.5" r="1.3" fill="none" stroke="#A3164B" stroke-width="0.45" stroke-opacity="0.45"/>
<circle cx="307.2" cy="351.1" r="1.4" fill="none" stroke="#A3164B" stroke-width="0.45" stroke-opacity="0.45"/>
<circle cx="295.6" cy="345.7" r="1.7" fill="none" stroke="#A3164B" stroke-width="0.45" stroke-opacity="0.45"/>
<circle cx="310.2" cy="349.0" r="1.4" fill="none" stroke="#A3164B" stroke-width="0.45" stroke-opacity="0.45"/>
<circle cx="299.2" cy="340.8" r="1.3" fill="none" stroke="#A3164B" stroke-width="0.45" stroke-opacity="0.45"/>
<circle cx="318.3" cy="348.5" r="1.9" fill="none" stroke="#A3164B" stroke-width="0.45" stroke-opacity="0.45"/>
<circle cx="289.2" cy="349.5" r="1.9" fill="none" stroke="#A3164B" stroke-width="0.45" stroke-opacity="0.45"/>
<circle cx="304.4" cy="347.9" r="1.7" fill="none" stroke="#A3164B" stroke-width="0.45" stroke-opacity="0.45"/>
<circle cx="296.5" cy="337.7" r="1.5" fill="none" stroke="#A3164B" stroke-width="0.45" stroke-opacity="0.45"/>
<circle cx="290.3" cy="341.4" r="1.9" fill="none" stroke="#A3164B" stroke-width="0.45" stroke-opacity="0.45"/>
<circle cx="311.9" cy="349.5" r="1.9" fill="none" stroke="#A3164B" stroke-width="0.45" stroke-opacity="0.45"/>
<circle cx="326.4" cy="339.1" r="1.7" fill="none" stroke="#A3164B" stroke-width="0.45" stroke-opacity="0.45"/>
<circle cx="348.9" cy="338.5" r="1.5" fill="none" stroke="#A3164B" stroke-width="0.45" stroke-opacity="0.45"/>
<circle cx="342.6" cy="347.3" r="1.5" fill="none" stroke="#A3164B" stroke-width="0.45" stroke-opacity="0.45"/>
<circle cx="352.8" cy="328.3" r="1.5" fill="none" stroke="#A3164B" stroke-width="0.45" stroke-opacity="0.45"/>
<circle cx="325.2" cy="342.9" r="2.1" fill="none" stroke="#A3164B" stroke-width="0.45" stroke-opacity="0.45"/>
<circle cx="347.1" cy="334.5" r="2.1" fill="none" stroke="#A3164B" stroke-width="0.45" stroke-opacity="0.45"/>
<circle cx="329.1" cy="332.8" r="2.1" fill="none" stroke="#A3164B" stroke-width="0.45" stroke-opacity="0.45"/>
<circle cx="342.1" cy="341.9" r="1.9" fill="none" stroke="#A3164B" stroke-width="0.45" stroke-opacity="0.45"/>
<circle cx="357.1" cy="337.4" r="2.0" fill="none" stroke="#A3164B" stroke-width="0.45" stroke-opacity="0.45"/>
<circle cx="345.0" cy="345.2" r="1.7" fill="none" stroke="#A3164B" stroke-width="0.45" stroke-opacity="0.45"/>
<circle cx="346.2" cy="339.4" r="1.5" fill="none" stroke="#A3164B" stroke-width="0.45" stroke-opacity="0.45"/>
<circle cx="324.1" cy="340.5" r="1.3" fill="none" stroke="#A3164B" stroke-width="0.45" stroke-opacity="0.45"/>
<circle cx="354.2" cy="330.9" r="1.3" fill="none" stroke="#A3164B" stroke-width="0.45" stroke-opacity="0.45"/>
<circle cx="319.6" cy="346.6" r="1.6" fill="none" stroke="#A3164B" stroke-width="0.45" stroke-opacity="0.45"/>
<circle cx="321.1" cy="328.6" r="1.3" fill="none" stroke="#A3164B" stroke-width="0.45" stroke-opacity="0.45"/>
<circle cx="344.8" cy="340.7" r="1.9" fill="none" stroke="#A3164B" stroke-width="0.45" stroke-opacity="0.45"/>
<circle cx="346.7" cy="329.3" r="1.8" fill="none" stroke="#A3164B" stroke-width="0.45" stroke-opacity="0.45"/>
<circle cx="330.6" cy="344.4" r="2.0" fill="none" stroke="#A3164B" stroke-width="0.45" stroke-opacity="0.45"/>
<circle cx="353.3" cy="329.3" r="2.0" fill="none" stroke="#A3164B" stroke-width="0.45" stroke-opacity="0.45"/>
<circle cx="354.3" cy="346.9" r="1.4" fill="none" stroke="#A3164B" stroke-width="0.45" stroke-opacity="0.45"/>
<circle cx="297.4" cy="353.8" r="1.3" fill="none" stroke="#A3164B" stroke-width="0.45" stroke-opacity="0.4"/>
<circle cx="323.8" cy="365.0" r="1.8" fill="none" stroke="#A3164B" stroke-width="0.45" stroke-opacity="0.4"/>
<circle cx="322.8" cy="362.1" r="1.5" fill="none" stroke="#A3164B" stroke-width="0.45" stroke-opacity="0.4"/>
<circle cx="293.1" cy="353.6" r="1.9" fill="none" stroke="#A3164B" stroke-width="0.45" stroke-opacity="0.4"/>
<circle cx="297.4" cy="357.1" r="1.6" fill="none" stroke="#A3164B" stroke-width="0.45" stroke-opacity="0.4"/>
<circle cx="289.9" cy="356.1" r="1.5" fill="none" stroke="#A3164B" stroke-width="0.45" stroke-opacity="0.4"/>
<circle cx="318.3" cy="357.9" r="1.5" fill="none" stroke="#A3164B" stroke-width="0.45" stroke-opacity="0.4"/>
<circle cx="328.5" cy="360.1" r="2.0" fill="none" stroke="#A3164B" stroke-width="0.45" stroke-opacity="0.4"/>
<circle cx="314.3" cy="352.5" r="1.6" fill="none" stroke="#A3164B" stroke-width="0.45" stroke-opacity="0.4"/>
<circle cx="306.9" cy="364.4" r="1.6" fill="none" stroke="#A3164B" stroke-width="0.45" stroke-opacity="0.4"/>
<circle cx="317.9" cy="360.6" r="1.5" fill="none" stroke="#A3164B" stroke-width="0.45" stroke-opacity="0.4"/>
<circle cx="324.4" cy="353.5" r="2.0" fill="none" stroke="#A3164B" stroke-width="0.45" stroke-opacity="0.4"/>
<circle cx="296.0" cy="352.0" r="1.4" fill="none" stroke="#A3164B" stroke-width="0.45" stroke-opacity="0.4"/>
<circle cx="320.2" cy="367.6" r="1.3" fill="none" stroke="#A3164B" stroke-width="0.45" stroke-opacity="0.4"/>
<circle cx="309.1" cy="359.9" r="2.0" fill="none" stroke="#A3164B" stroke-width="0.45" stroke-opacity="0.4"/>
<circle cx="296.6" cy="359.9" r="1.6" fill="none" stroke="#A3164B" stroke-width="0.45" stroke-opacity="0.4"/>
<circle cx="323.1" cy="356.2" r="2.1" fill="none" stroke="#A3164B" stroke-width="0.45" stroke-opacity="0.4"/>
<circle cx="300.6" cy="355.4" r="1.9" fill="none" stroke="#A3164B" stroke-width="0.45" stroke-opacity="0.4"/>
<circle cx="309.4" cy="353.8" r="1.8" fill="none" stroke="#A3164B" stroke-width="0.45" stroke-opacity="0.4"/>
<circle cx="292.3" cy="364.6" r="1.9" fill="none" stroke="#A3164B" stroke-width="0.45" stroke-opacity="0.4"/>
<circle cx="321.3" cy="362.0" r="1.6" fill="none" stroke="#A3164B" stroke-width="0.45" stroke-opacity="0.4"/>
<circle cx="305.5" cy="358.3" r="2.1" fill="none" stroke="#A3164B" stroke-width="0.45" stroke-opacity="0.4"/>
<circle cx="292.5" cy="366.2" r="1.3" fill="none" stroke="#A3164B" stroke-width="0.45" stroke-opacity="0.4"/>
<circle cx="297.5" cy="356.2" r="2.1" fill="none" stroke="#A3164B" stroke-width="0.45" stroke-opacity="0.4"/>
<circle cx="309.5" cy="358.1" r="2.1" fill="none" stroke="#A3164B" stroke-width="0.45" stroke-opacity="0.4"/>
<circle cx="329.1" cy="371.5" r="1.7" fill="none" stroke="#A3164B" stroke-width="0.45" stroke-opacity="0.35"/>
<circle cx="349.4" cy="375.0" r="1.8" fill="none" stroke="#A3164B" stroke-width="0.45" stroke-opacity="0.35"/>
<circle cx="333.6" cy="369.9" r="1.4" fill="none" stroke="#A3164B" stroke-width="0.45" stroke-opacity="0.35"/>
<circle cx="352.9" cy="373.9" r="1.9" fill="none" stroke="#A3164B" stroke-width="0.45" stroke-opacity="0.35"/>
<circle cx="326.6" cy="371.3" r="2.0" fill="none" stroke="#A3164B" stroke-width="0.45" stroke-opacity="0.35"/>
<circle cx="342.6" cy="367.5" r="1.7" fill="none" stroke="#A3164B" stroke-width="0.45" stroke-opacity="0.35"/>
<circle cx="354.5" cy="368.9" r="1.4" fill="none" stroke="#A3164B" stroke-width="0.45" stroke-opacity="0.35"/>
<circle cx="331.8" cy="374.4" r="2.0" fill="none" stroke="#A3164B" stroke-width="0.45" stroke-opacity="0.35"/>
<circle cx="326.0" cy="367.9" r="1.5" fill="none" stroke="#A3164B" stroke-width="0.45" stroke-opacity="0.35"/>
<circle cx="332.7" cy="372.3" r="1.4" fill="none" stroke="#A3164B" stroke-width="0.45" stroke-opacity="0.35"/>
<circle cx="332.8" cy="368.3" r="2.1" fill="none" stroke="#A3164B" stroke-width="0.45" stroke-opacity="0.35"/>
<circle cx="348.4" cy="367.2" r="2.1" fill="none" stroke="#A3164B" stroke-width="0.45" stroke-opacity="0.35"/>
<circle cx="324.0" cy="370.6" r="2.1" fill="none" stroke="#A3164B" stroke-width="0.45" stroke-opacity="0.35"/>
<circle cx="351.0" cy="374.8" r="1.7" fill="none" stroke="#A3164B" stroke-width="0.45" stroke-opacity="0.35"/>
<circle cx="327.7" cy="373.7" r="1.4" fill="none" stroke="#A3164B" stroke-width="0.45" stroke-opacity="0.35"/>
<circle cx="328.1" cy="370.7" r="1.3" fill="none" stroke="#A3164B" stroke-width="0.45" stroke-opacity="0.35"/>
<circle cx="335.6" cy="375.5" r="1.9" fill="none" stroke="#A3164B" stroke-width="0.45" stroke-opacity="0.35"/>
<circle cx="339.5" cy="373.6" r="1.7" fill="none" stroke="#A3164B" stroke-width="0.45" stroke-opacity="0.35"/>
<circle cx="325.5" cy="373.2" r="1.6" fill="none" stroke="#A3164B" stroke-width="0.45" stroke-opacity="0.35"/>
<circle cx="348.9" cy="376.9" r="1.6" fill="none" stroke="#A3164B" stroke-width="0.45" stroke-opacity="0.35"/>
<path d="M289.0 336.0L315.0 336.0L322.0 342.0L318.0 350.0L300.0 352.0L289.0 352.0Z" fill="url(#g32)" filter="url(#f11)"/>
<path d="M289.5 329.8L314.0 329.5L316.0 333.5L311.0 338.0L300.0 339.0L290.0 338.5Z" fill="#A3164B" fill-opacity="0.95" filter="url(#f6)"/>
<path d="M289.0 356.0L300.0 356.0L312.0 362.0L300.0 368.0L289.0 368.0Z" fill="#A3164B" fill-opacity="0.25" filter="url(#f4)"/>
<path d="M289.0 364.3L305.4 367.8L328.7 372.5L352.0 372.5L359.0 374.9L360.0 386.0L289.0 386.0Z" fill="#A3164B" fill-opacity="0.4" filter="url(#f11)"/>
<path d="M287.0 370.2L299.5 369.0L311.2 372.5L322.9 376.0L334.6 378.4L346.2 381.9L356.7 385.4L358.0 387.0L287.0 387.0Z" fill="#A3164B" fill-opacity="0.97" filter="url(#f6)"/>
<path d="M284.3 386.5L358.0 386.5L360.0 390.0L350.0 393.5L284.3 393.5Z" fill="#A3164B" fill-opacity="0.97" filter="url(#f33)"/>
<path d="M288.0 395.0L358.0 395.0L358.0 400.0L288.0 400.0Z" fill="#A3164B" fill-opacity="0.45" filter="url(#f9)"/>
<path d="M291.0 395.0L320.5 395.0L320.5 401.0L291.0 401.0Z" fill="#A3164B" fill-opacity="0.85" filter="url(#f9)"/>
</g>
<line x1="285.6" y1="386.6" x2="360.5" y2="386.6" stroke="#000" stroke-width="1.3"/>
<text x="285.7" y="413.4" font-size="11.5" text-anchor="start" font-weight="normal" font-style="normal" fill="#000" >0</text>
<text x="355.3" y="413.4" font-size="11.5" text-anchor="middle" font-weight="normal" font-style="normal" fill="#000" >50</text>
<text x="307.3" y="431.6" font-size="11.5" text-anchor="start" font-weight="normal" font-style="normal" fill="#000" >HUFP</text>
<text x="303.4" y="336.2" font-size="9.6" text-anchor="start" font-weight="normal" font-style="normal" fill="#000" ><tspan font-style="italic">P</tspan>&lt;0.001</text>
<rect x="391.0" y="324.6" width="75.80000000000001" height="75.39999999999998" fill="none" stroke="#000" stroke-width="1.2"/>
<line x1="393.4" y1="400.0" x2="393.4" y2="404.2" stroke="#000" stroke-width="1.1"/>
<line x1="462.9" y1="400.0" x2="462.9" y2="404.2" stroke="#000" stroke-width="1.1"/>
<g clip-path="url(#c34)">
<path d="M404.5 337.6L410.0 334.8L417.4 335.8L420.1 340.3L419.2 349.5L420.1 358.7L428.4 360.5L443.0 366.0L457.7 371.5L463.2 375.2L463.6 382.5L463.2 389.9L443.0 392.6L415.5 392.6L400.8 389.9L398.0 384.4L400.0 377.0L402.7 367.9L403.6 349.5Z" fill="url(#g35)" filter="url(#f14)"/>
<path d="M398.0 379.0L440.0 381.0L464.0 384.0L463.5 390.0L443.0 392.6L415.5 392.6L400.8 389.9Z" fill="#EDD98A" fill-opacity="0.97" filter="url(#f13)"/>
</g>
<line x1="398.1" y1="378.0" x2="464.7" y2="385.3" stroke="#000" stroke-width="1.3"/>
<text x="392.0" y="415.0" font-size="11.5" text-anchor="start" font-weight="normal" font-style="normal" fill="#000" >4</text>
<text x="463.1" y="415.0" font-size="11.5" text-anchor="middle" font-weight="normal" font-style="normal" fill="#000" >8</text>
<text x="395.9" y="431.6" font-size="11.5" text-anchor="start" font-weight="normal" font-style="normal" fill="#000" >SOPH (10<tspan font-size="7" dy="-4">2</tspan><tspan dy="4">g)</tspan></text>
<text x="409.4" y="336.2" font-size="9.6" text-anchor="start" font-weight="normal" font-style="normal" fill="#000" ><tspan font-style="italic">P</tspan>&lt;0.001</text>
<rect x="497.8" y="324.8" width="74.69999999999999" height="75.19999999999999" fill="none" stroke="#000" stroke-width="1.2"/>
<line x1="497.5" y1="400.0" x2="497.5" y2="404.2" stroke="#000" stroke-width="1.1"/>
<line x1="569.0" y1="400.0" x2="569.0" y2="404.2" stroke="#000" stroke-width="1.1"/>
<g clip-path="url(#c36)">
<circle cx="546.4" cy="362.5" r="1.8" fill="none" stroke="#A3164B" stroke-width="0.45" stroke-opacity="0.3"/>
<circle cx="525.7" cy="361.4" r="2.3" fill="none" stroke="#A3164B" stroke-width="0.45" stroke-opacity="0.3"/>
<circle cx="558.4" cy="360.6" r="2.3" fill="none" stroke="#A3164B" stroke-width="0.45" stroke-opacity="0.3"/>
<circle cx="552.8" cy="358.4" r="1.9" fill="none" stroke="#A3164B" stroke-width="0.45" stroke-opacity="0.3"/>
<circle cx="530.8" cy="357.9" r="1.5" fill="none" stroke="#A3164B" stroke-width="0.45" stroke-opacity="0.3"/>
<circle cx="537.2" cy="363.7" r="2.1" fill="none" stroke="#A3164B" stroke-width="0.45" stroke-opacity="0.3"/>
<circle cx="549.8" cy="343.5" r="1.8" fill="none" stroke="#A3164B" stroke-width="0.45" stroke-opacity="0.3"/>
<circle cx="539.3" cy="357.6" r="1.8" fill="none" stroke="#A3164B" stroke-width="0.45" stroke-opacity="0.3"/>
<circle cx="552.5" cy="369.3" r="1.6" fill="none" stroke="#A3164B" stroke-width="0.45" stroke-opacity="0.3"/>
<circle cx="551.3" cy="363.6" r="1.8" fill="none" stroke="#A3164B" stroke-width="0.45" stroke-opacity="0.3"/>
<circle cx="541.4" cy="371.0" r="1.4" fill="none" stroke="#A3164B" stroke-width="0.45" stroke-opacity="0.3"/>
<circle cx="544.6" cy="340.1" r="2.2" fill="none" stroke="#A3164B" stroke-width="0.45" stroke-opacity="0.3"/>
<circle cx="568.4" cy="353.7" r="1.5" fill="none" stroke="#A3164B" stroke-width="0.45" stroke-opacity="0.3"/>
<circle cx="546.5" cy="354.6" r="2.1" fill="none" stroke="#A3164B" stroke-width="0.45" stroke-opacity="0.3"/>
<circle cx="542.7" cy="358.3" r="2.2" fill="none" stroke="#A3164B" stroke-width="0.45" stroke-opacity="0.3"/>
<circle cx="543.3" cy="349.6" r="2.3" fill="none" stroke="#A3164B" stroke-width="0.45" stroke-opacity="0.3"/>
<circle cx="524.6" cy="360.0" r="1.8" fill="none" stroke="#A3164B" stroke-width="0.45" stroke-opacity="0.3"/>
<circle cx="557.8" cy="338.7" r="2.4" fill="none" stroke="#A3164B" stroke-width="0.45" stroke-opacity="0.3"/>
<circle cx="533.3" cy="336.2" r="1.7" fill="none" stroke="#A3164B" stroke-width="0.45" stroke-opacity="0.3"/>
<circle cx="536.0" cy="334.5" r="1.8" fill="none" stroke="#A3164B" stroke-width="0.45" stroke-opacity="0.3"/>
<circle cx="537.2" cy="360.5" r="1.8" fill="none" stroke="#A3164B" stroke-width="0.45" stroke-opacity="0.3"/>
<circle cx="527.9" cy="342.5" r="2.1" fill="none" stroke="#A3164B" stroke-width="0.45" stroke-opacity="0.3"/>
<circle cx="568.4" cy="354.0" r="1.6" fill="none" stroke="#A3164B" stroke-width="0.45" stroke-opacity="0.3"/>
<circle cx="560.1" cy="348.9" r="1.6" fill="none" stroke="#A3164B" stroke-width="0.45" stroke-opacity="0.3"/>
<circle cx="519.8" cy="363.5" r="2.2" fill="none" stroke="#A3164B" stroke-width="0.45" stroke-opacity="0.3"/>
<circle cx="550.1" cy="351.8" r="2.0" fill="none" stroke="#A3164B" stroke-width="0.45" stroke-opacity="0.3"/>
<circle cx="525.6" cy="370.6" r="1.8" fill="none" stroke="#A3164B" stroke-width="0.45" stroke-opacity="0.3"/>
<circle cx="550.3" cy="365.1" r="2.2" fill="none" stroke="#A3164B" stroke-width="0.45" stroke-opacity="0.3"/>
<circle cx="540.1" cy="345.2" r="1.9" fill="none" stroke="#A3164B" stroke-width="0.45" stroke-opacity="0.3"/>
<circle cx="519.5" cy="365.7" r="1.8" fill="none" stroke="#A3164B" stroke-width="0.45" stroke-opacity="0.3"/>
<circle cx="563.0" cy="344.2" r="1.8" fill="none" stroke="#A3164B" stroke-width="0.45" stroke-opacity="0.3"/>
<circle cx="527.2" cy="350.2" r="1.6" fill="none" stroke="#A3164B" stroke-width="0.45" stroke-opacity="0.3"/>
<circle cx="512.2" cy="361.4" r="1.7" fill="none" stroke="#A3164B" stroke-width="0.45" stroke-opacity="0.3"/>
<circle cx="526.7" cy="345.5" r="1.9" fill="none" stroke="#A3164B" stroke-width="0.45" stroke-opacity="0.3"/>
<circle cx="537.7" cy="358.2" r="2.1" fill="none" stroke="#A3164B" stroke-width="0.45" stroke-opacity="0.3"/>
<path d="M505.0 333.0L525.2 342.2L545.4 349.5L560.0 358.7L567.4 366.0L571.0 377.0L540.0 378.0L505.0 360.0Z" fill="#A3164B" fill-opacity="0.28" filter="url(#f4)"/>
<path d="M498.6 334.8L505.0 333.9L510.5 338.5L517.8 345.8L525.2 353.2L534.4 360.5L545.4 367.9L554.5 374.3L563.7 377.0L572.9 380.7L574.7 385.3L567.4 389.0L549.0 391.7L521.5 392.6L495.8 390.8L494.9 375.2L497.7 373.4Z" fill="url(#g37)" filter="url(#f11)"/>
<path d="M495.0 373.0L530.0 373.0L560.0 377.0L573.0 381.0L573.0 389.0L540.0 393.0L495.0 393.0Z" fill="#A3164B" fill-opacity="0.97" filter="url(#f6)"/>
</g>
<line x1="497.7" y1="379.8" x2="572.5" y2="382.4" stroke="#000" stroke-width="1.3"/>
<text x="497.7" y="417.3" font-size="11.5" text-anchor="start" font-weight="normal" font-style="normal" fill="#000" >0</text>
<text x="567.2" y="417.3" font-size="11.5" text-anchor="middle" font-weight="normal" font-style="normal" fill="#000" >50</text>
<text x="518.7" y="433.5" font-size="11.5" text-anchor="start" font-weight="normal" font-style="normal" fill="#000" >HUFP</text>
<text x="517.3" y="336.2" font-size="9.6" text-anchor="start" font-weight="normal" font-style="normal" fill="#000" ><tspan font-style="italic">P</tspan>&lt;0.001</text>
<rect x="601.4" y="325.2" width="74.89999999999998" height="75.0" fill="none" stroke="#000" stroke-width="1.2"/>
<line x1="603.2" y1="400.2" x2="603.2" y2="404.4" stroke="#000" stroke-width="1.1"/>
<line x1="673.3" y1="400.2" x2="673.3" y2="404.4" stroke="#000" stroke-width="1.1"/>
<g clip-path="url(#c38)">
<circle cx="632.3" cy="369.4" r="2.7" fill="none" stroke="#E3F7A0" stroke-width="0.45" stroke-opacity="0.7"/>
<circle cx="615.2" cy="365.6" r="2.8" fill="none" stroke="#E3F7A0" stroke-width="0.45" stroke-opacity="0.7"/>
<circle cx="655.9" cy="340.2" r="2.7" fill="none" stroke="#E3F7A0" stroke-width="0.45" stroke-opacity="0.7"/>
<circle cx="647.5" cy="335.6" r="1.7" fill="none" stroke="#E3F7A0" stroke-width="0.45" stroke-opacity="0.7"/>
<circle cx="665.3" cy="359.3" r="2.0" fill="none" stroke="#E3F7A0" stroke-width="0.45" stroke-opacity="0.7"/>
<circle cx="617.7" cy="340.3" r="2.0" fill="none" stroke="#E3F7A0" stroke-width="0.45" stroke-opacity="0.7"/>
<circle cx="655.5" cy="347.8" r="1.9" fill="none" stroke="#E3F7A0" stroke-width="0.45" stroke-opacity="0.7"/>
<circle cx="662.6" cy="364.3" r="1.9" fill="none" stroke="#E3F7A0" stroke-width="0.45" stroke-opacity="0.7"/>
<circle cx="661.9" cy="357.5" r="2.6" fill="none" stroke="#E3F7A0" stroke-width="0.45" stroke-opacity="0.7"/>
<circle cx="649.4" cy="368.1" r="2.6" fill="none" stroke="#E3F7A0" stroke-width="0.45" stroke-opacity="0.7"/>
<circle cx="659.0" cy="342.3" r="2.5" fill="none" stroke="#E3F7A0" stroke-width="0.45" stroke-opacity="0.7"/>
<circle cx="641.7" cy="362.5" r="2.2" fill="none" stroke="#E3F7A0" stroke-width="0.45" stroke-opacity="0.7"/>
<circle cx="661.4" cy="355.5" r="2.0" fill="none" stroke="#E3F7A0" stroke-width="0.45" stroke-opacity="0.7"/>
<circle cx="625.1" cy="340.2" r="2.3" fill="none" stroke="#E3F7A0" stroke-width="0.45" stroke-opacity="0.7"/>
<path d="M599.9 382.5L608.2 381.6L609.0 373.4L610.0 367.9L613.7 362.4L617.3 358.7L622.8 353.2L626.5 347.7L632.0 342.2L639.4 338.5L646.7 336.7L654.0 333.9L657.7 333.0L660.5 336.7L661.4 349.5L662.3 367.9L663.2 382.5L662.3 390.8L654.0 394.5L626.5 394.5L608.2 392.6L600.8 390.8Z" fill="#E3F7A0" fill-opacity="0.97" filter="url(#f33)"/>
</g>
<line x1="601.8" y1="389.5" x2="667.8" y2="374.3" stroke="#000" stroke-width="1.3"/>
<text x="602.2" y="414.8" font-size="11.5" text-anchor="start" font-weight="normal" font-style="normal" fill="#000" >9</text>
<text x="672.3" y="414.8" font-size="11.5" text-anchor="middle" font-weight="normal" font-style="normal" fill="#000" >12</text>
<text x="623.0" y="430.1" font-size="11.5" text-anchor="start" font-weight="normal" font-style="normal" fill="#000" >CASC</text>
<text x="619.4" y="336.2" font-size="9.6" text-anchor="start" font-weight="normal" font-style="normal" fill="#000" ><tspan font-style="italic">P</tspan>&lt;0.001</text>
<text transform="translate(40.4 300.6) rotate(-90)" font-size="11.8" text-anchor="middle" fill="#000">AGC rate (Tg ha<tspan font-size="7.5" dy="-4">-1</tspan><tspan dy="4"> yr</tspan><tspan font-size="7.5" dy="-4">-1</tspan><tspan dy="4">)</tspan></text>
</svg></body></html>
